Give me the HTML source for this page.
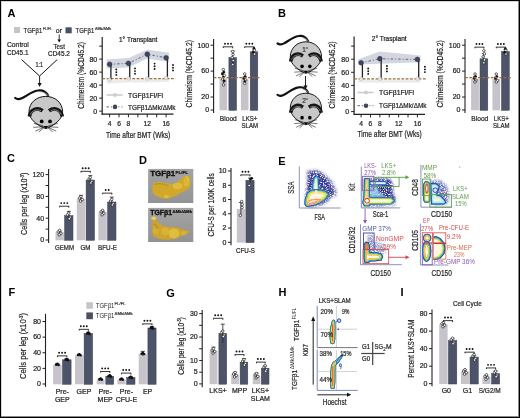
<!DOCTYPE html>
<html><head><meta charset="utf-8"><style>
html,body{margin:0;padding:0;background:#fff;}
.fig{position:relative;width:520px;height:418px;box-sizing:border-box;border:1px solid #000;overflow:hidden;background:#fff;box-shadow:inset -1px -1px 0 #8a8a8a, inset 1px 1px 0 #d8d8d8;}
svg{position:absolute;left:-1px;top:-1px;font-family:"Liberation Sans", sans-serif;will-change:transform;filter:blur(0.3px);}
</style></head><body><div class="fig">
<svg width="520" height="418" viewBox="0 0 520 418">
<defs><filter id="bl1" x="-30%" y="-30%" width="160%" height="160%"><feGaussianBlur stdDeviation="0.9"/></filter><filter id="bl2" x="-30%" y="-30%" width="160%" height="160%"><feGaussianBlur stdDeviation="0.45"/></filter><filter id="bl3" x="-30%" y="-30%" width="160%" height="160%"><feGaussianBlur stdDeviation="1.4"/></filter><filter id="speck" x="-20%" y="-20%" width="140%" height="140%" color-interpolation-filters="sRGB"><feGaussianBlur in="SourceGraphic" stdDeviation="1.6" result="sb"/><feTurbulence type="fractalNoise" baseFrequency="1.1" numOctaves="2" seed="7" result="n"/><feColorMatrix in="n" type="matrix" values="0 0 0 0 0.16  0 0 0 0 0.18  0 0 0 0 0.55  3.4 0 0 0 -1.0" result="c"/><feComposite in="c" in2="sb" operator="in"/></filter><linearGradient id="photobg" x1="0" y1="0" x2="0" y2="1"><stop offset="0" stop-color="#a4a4a4"/><stop offset="1" stop-color="#939393"/></linearGradient></defs>
<text x="0" y="0" transform="translate(7.60 16.52)" font-size="11" fill="#000" font-weight="bold" >A</text>
<rect x="14.00" y="27.00" width="6.00" height="6.00" fill="#c6c4ca" />
<text x="23.6" y="32.8" font-size="7.4" fill="#231f20" stroke="#231f20" stroke-width="0.2" textLength="18.6" lengthAdjust="spacingAndGlyphs">TGFβ1</text>
<text x="43" y="29.6" font-size="4.3" fill="#231f20" stroke="#231f20" stroke-width="0.18" textLength="9.2" lengthAdjust="spacingAndGlyphs">FL/FL</text>
<text x="0" y="0" transform="translate(55.80 32.60)" font-size="7" fill="#231f20" stroke="#231f20" stroke-width="0.22" >or</text>
<rect x="65.50" y="27.30" width="6.20" height="6.00" fill="#4a5066" />
<text x="75.6" y="32.8" font-size="7.4" fill="#231f20" stroke="#231f20" stroke-width="0.2" textLength="18.6" lengthAdjust="spacingAndGlyphs">TGFβ1</text>
<text x="95" y="29.6" font-size="4.3" fill="#231f20" stroke="#231f20" stroke-width="0.18" textLength="16" lengthAdjust="spacingAndGlyphs">ΔMk/ΔMk</text>
<line x1="59.20" y1="34.50" x2="59.20" y2="40.50" stroke="#231f20" stroke-width="0.9" />
<path d="M57.4,39.6 L61,39.6 L59.2,42.4 Z" fill="#111"/>
<text x="0" y="0" transform="translate(6.90 47.30) scale(0.9099 1)" font-size="7.5" fill="#231f20" stroke="#231f20" stroke-width="0.22" >Control</text>
<text x="0" y="0" transform="translate(6.90 54.70) scale(0.8494 1)" font-size="7.5" fill="#231f20" stroke="#231f20" stroke-width="0.22" >CD45.1</text>
<text x="0" y="0" transform="translate(53.50 48.50) scale(0.8288 1)" font-size="7.5" fill="#231f20" stroke="#231f20" stroke-width="0.22" >Test</text>
<text x="0" y="0" transform="translate(48.00 56.20) scale(0.8651 1)" font-size="7.5" fill="#231f20" stroke="#231f20" stroke-width="0.22" >CD45.2</text>
<text x="0" y="0" transform="translate(35.40 66.50) scale(0.7913 1)" font-size="7" fill="#231f20" stroke="#231f20" stroke-width="0.22" >1:1</text>
<path d="M21.5,59.6 L39.6,76 L57.2,59.6" fill="none" stroke="#111" stroke-width="1"/>
<line x1="39.60" y1="76.00" x2="39.60" y2="84.00" stroke="#231f20" stroke-width="1" />
<path d="M37.6,83 L41.6,83 L39.6,87 Z" fill="#111"/>
<g transform="translate(45.80,96.40) scale(1.0,1.0)">
<path d="M2.4,-0.8 C0,-5 -4,-6.6 -8,-5.9 C-14,-5 -19,-0.5 -23.5,1.6 C-26.5,3 -29,3 -30.6,1.6" fill="none" stroke="#111" stroke-width="2.2" stroke-linecap="round"/>
<path d="M3.2,0.2 C1.5,-2.5 -1,-3.8 -3.5,-4.2" fill="none" stroke="#9a9a9a" stroke-width="0.9"/>
<path d="M0,0 C9.5,0 16.6,6.5 16.8,15 C17,19.5 14.5,22.5 11.5,25.5 C8,28.5 4,31 0,32.2 C-4,31 -8,28.5 -11.5,25.5 C-14.5,22.5 -17,19.5 -16.8,15 C-16.6,6.5 -9.5,0 0,0 Z" fill="#c8c8c8" stroke="#111" stroke-width="1"/>
<path d="M-16.4,20 C-15.5,13.5 -9,10.3 -3.2,14.4" fill="none" stroke="#151515" stroke-width="3.8"/>
<path d="M-15.4,18.2 C-14,14.3 -9,12.2 -4.8,14.3" fill="none" stroke="#9a9a9a" stroke-width="0.8"/>
<path d="M16.4,20 C15.5,13.5 9,10.3 3.2,14.4" fill="none" stroke="#151515" stroke-width="3.8"/>
<path d="M15.4,18.2 C14,14.3 9,12.2 4.8,14.3" fill="none" stroke="#9a9a9a" stroke-width="0.8"/>
<circle cx="-4.1" cy="25" r="1.9" fill="#000"/><circle cx="4.2" cy="25" r="1.9" fill="#000"/>
<path d="M-2.6,29.6 L2.6,29.6 L0,32.4 Z" fill="#000"/>
<path d="M-2.5,29.5 L-12,27 M-2.5,30.3 L-12.5,31 M-2.5,31 L-10.5,34.8 M-2,31.3 L-7,35.6 M2.5,29.5 L12,27 M2.5,30.3 L12.5,31 M2.5,31 L10.5,34.8 M2,31.3 L7,35.6" stroke="#111" stroke-width="0.6" fill="none"/>
</g>
<line x1="102.20" y1="37.00" x2="102.20" y2="114.70" stroke="#231f20" stroke-width="1.2" />
<line x1="101.70" y1="114.20" x2="173.50" y2="114.20" stroke="#231f20" stroke-width="1.2" />
<line x1="99.20" y1="111.10" x2="102.20" y2="111.10" stroke="#231f20" stroke-width="1" />
<text x="0" y="0" transform="translate(97.20 113.50)" font-size="7" fill="#231f20" text-anchor="end" stroke="#231f20" stroke-width="0.22" >0</text>
<line x1="99.20" y1="98.10" x2="102.20" y2="98.10" stroke="#231f20" stroke-width="1" />
<text x="0" y="0" transform="translate(97.20 100.50)" font-size="7" fill="#231f20" text-anchor="end" stroke="#231f20" stroke-width="0.22" >20</text>
<line x1="99.20" y1="85.10" x2="102.20" y2="85.10" stroke="#231f20" stroke-width="1" />
<text x="0" y="0" transform="translate(97.20 87.50)" font-size="7" fill="#231f20" text-anchor="end" stroke="#231f20" stroke-width="0.22" >40</text>
<line x1="99.20" y1="72.10" x2="102.20" y2="72.10" stroke="#231f20" stroke-width="1" />
<text x="0" y="0" transform="translate(97.20 74.50)" font-size="7" fill="#231f20" text-anchor="end" stroke="#231f20" stroke-width="0.22" >60</text>
<line x1="99.20" y1="59.10" x2="102.20" y2="59.10" stroke="#231f20" stroke-width="1" />
<text x="0" y="0" transform="translate(97.20 61.50)" font-size="7" fill="#231f20" text-anchor="end" stroke="#231f20" stroke-width="0.22" >80</text>
<line x1="99.20" y1="46.10" x2="102.20" y2="46.10" stroke="#231f20" stroke-width="1" />
<line x1="109.60" y1="114.20" x2="109.60" y2="117.30" stroke="#231f20" stroke-width="1" />
<text x="0" y="0" transform="translate(109.60 125.60)" font-size="6.7" fill="#231f20" text-anchor="middle" stroke="#231f20" stroke-width="0.22" >4</text>
<line x1="119.02" y1="114.20" x2="119.02" y2="117.30" stroke="#231f20" stroke-width="1" />
<text x="0" y="0" transform="translate(119.02 125.60)" font-size="6.7" fill="#231f20" text-anchor="middle" stroke="#231f20" stroke-width="0.22" >6</text>
<line x1="128.43" y1="114.20" x2="128.43" y2="117.30" stroke="#231f20" stroke-width="1" />
<text x="0" y="0" transform="translate(128.43 125.60)" font-size="6.7" fill="#231f20" text-anchor="middle" stroke="#231f20" stroke-width="0.22" >8</text>
<line x1="137.85" y1="114.20" x2="137.85" y2="117.30" stroke="#231f20" stroke-width="1" />
<line x1="147.27" y1="114.20" x2="147.27" y2="117.30" stroke="#231f20" stroke-width="1" />
<text x="0" y="0" transform="translate(147.27 125.60)" font-size="6.7" fill="#231f20" text-anchor="middle" stroke="#231f20" stroke-width="0.22" >12</text>
<line x1="156.68" y1="114.20" x2="156.68" y2="117.30" stroke="#231f20" stroke-width="1" />
<line x1="166.10" y1="114.20" x2="166.10" y2="117.30" stroke="#231f20" stroke-width="1" />
<text x="0" y="0" transform="translate(166.10 125.60)" font-size="6.7" fill="#231f20" text-anchor="middle" stroke="#231f20" stroke-width="0.22" >16</text>
<polygon points="106.60,59.40 128.43,58.00 147.27,49.80 169.10,52.70 169.10,62.00 147.27,58.50 128.43,67.50 106.60,68.50" fill="#d3d6de"/>
<polygon points="106.60,80.55 128.43,79.25 147.27,79.25 169.10,78.60 169.10,81.85 147.27,82.50 128.43,82.50 106.60,83.80" fill="#ececee"/>
<line x1="102.20" y1="78.60" x2="175.50" y2="78.60" stroke="#9c6f3c" stroke-width="1.2" stroke-dasharray="2.8,1.5"/>
<polyline points="109.60,64.30 128.43,63.33 147.27,54.23 166.10,57.80" fill="none" stroke="#5d6580" stroke-width="1" stroke-dasharray="2.5,2,1,2"/>
<line x1="110.90" y1="64.30" x2="110.90" y2="79.90" stroke="#222" stroke-width="1.3" />
<line x1="129.73" y1="63.33" x2="129.73" y2="78.60" stroke="#222" stroke-width="1.3" />
<line x1="148.57" y1="54.23" x2="148.57" y2="78.60" stroke="#222" stroke-width="1.3" />
<line x1="167.40" y1="57.80" x2="167.40" y2="77.95" stroke="#222" stroke-width="1.3" />
<circle cx="109.60" cy="79.90" r="1.8" fill="#e4e4e4" stroke="#bbb" stroke-width="0.5"/>
<circle cx="128.43" cy="78.60" r="1.8" fill="#e4e4e4" stroke="#bbb" stroke-width="0.5"/>
<circle cx="147.27" cy="78.60" r="1.8" fill="#e4e4e4" stroke="#bbb" stroke-width="0.5"/>
<circle cx="166.10" cy="77.95" r="1.8" fill="#e4e4e4" stroke="#bbb" stroke-width="0.5"/>
<circle cx="109.60" cy="64.30" r="2.4" fill="#3d4660" stroke="#2a3045" stroke-width="0.5"/>
<circle cx="128.43" cy="63.33" r="2.4" fill="#3d4660" stroke="#2a3045" stroke-width="0.5"/>
<circle cx="147.27" cy="54.23" r="2.4" fill="#3d4660" stroke="#2a3045" stroke-width="0.5"/>
<circle cx="166.10" cy="57.80" r="2.4" fill="#3d4660" stroke="#2a3045" stroke-width="0.5"/>
<circle cx="116.30" cy="69.50" r="0.95" fill="#111"/>
<circle cx="116.30" cy="72.20" r="0.95" fill="#111"/>
<circle cx="116.30" cy="74.90" r="0.95" fill="#111"/>
<circle cx="135.00" cy="68.40" r="0.95" fill="#111"/>
<circle cx="135.00" cy="71.10" r="0.95" fill="#111"/>
<circle cx="135.00" cy="73.80" r="0.95" fill="#111"/>
<circle cx="154.60" cy="63.60" r="0.95" fill="#111"/>
<circle cx="154.60" cy="66.30" r="0.95" fill="#111"/>
<circle cx="154.60" cy="69.00" r="0.95" fill="#111"/>
<circle cx="173.00" cy="65.00" r="0.95" fill="#111"/>
<circle cx="173.00" cy="67.70" r="0.95" fill="#111"/>
<circle cx="173.00" cy="70.40" r="0.95" fill="#111"/>
<text x="0" y="0" transform="translate(119.00 41.50)" font-size="6.5" fill="#231f20" stroke="#231f20" stroke-width="0.22" >1° Transplant</text>
<line x1="106.50" y1="95.00" x2="122.50" y2="95.00" stroke="#c9c9c9" stroke-width="1.5" />
<circle cx="115.00" cy="95.00" r="2" fill="#cfcfcf"/>
<text x="0" y="0" transform="translate(128.00 97.60) scale(0.9853 1)" font-size="7" fill="#231f20" stroke="#231f20" stroke-width="0.22" >TGFβ1Fl/Fl</text>
<line x1="106.50" y1="106.90" x2="122.50" y2="106.90" stroke="#5d6580" stroke-width="1" stroke-dasharray="2.5,2,1,2"/>
<circle cx="115.00" cy="106.90" r="2.3" fill="#3d4660"/>
<text x="0" y="0" transform="translate(128.00 109.50) scale(0.9157 1)" font-size="7" fill="#231f20" stroke="#231f20" stroke-width="0.22" >TGFβ1ΔMk/ΔMk</text>
<text x="0" y="0" transform="translate(84.30 108.70) rotate(-90) scale(0.7421 1)" font-size="9" fill="#231f20" stroke="#231f20" stroke-width="0.22" >Chimerism (%CD45.2)</text>
<text x="0" y="0" transform="translate(106.00 138.20) scale(0.7981 1)" font-size="8.3" fill="#231f20" stroke="#231f20" stroke-width="0.22" >Time after BMT (Wks)</text>
<line x1="213.60" y1="38.90" x2="213.60" y2="112.90" stroke="#231f20" stroke-width="1.1" />
<line x1="210.60" y1="110.00" x2="213.60" y2="110.00" stroke="#231f20" stroke-width="1" />
<text x="0" y="0" transform="translate(209.10 112.30)" font-size="7" fill="#231f20" text-anchor="end" stroke="#231f20" stroke-width="0.22" >0</text>
<line x1="210.60" y1="97.04" x2="213.60" y2="97.04" stroke="#231f20" stroke-width="1" />
<text x="0" y="0" transform="translate(209.10 99.34)" font-size="7" fill="#231f20" text-anchor="end" stroke="#231f20" stroke-width="0.22" >20</text>
<line x1="210.60" y1="84.08" x2="213.60" y2="84.08" stroke="#231f20" stroke-width="1" />
<line x1="210.60" y1="71.12" x2="213.60" y2="71.12" stroke="#231f20" stroke-width="1" />
<text x="0" y="0" transform="translate(209.10 73.42)" font-size="7" fill="#231f20" text-anchor="end" stroke="#231f20" stroke-width="0.22" >60</text>
<line x1="210.60" y1="58.16" x2="213.60" y2="58.16" stroke="#231f20" stroke-width="1" />
<line x1="210.60" y1="45.20" x2="213.60" y2="45.20" stroke="#231f20" stroke-width="1" />
<text x="0" y="0" transform="translate(209.10 47.50)" font-size="7" fill="#231f20" text-anchor="end" stroke="#231f20" stroke-width="0.22" >100</text>
<rect x="219.50" y="78.57" width="7.60" height="31.73" fill="#c6c4ca" />
<rect x="228.90" y="57.58" width="7.60" height="52.72" fill="#4d5469" stroke="#3a4052" stroke-width="0.5"/>
<line x1="223.30" y1="72.74" x2="223.30" y2="84.40" stroke="#231f20" stroke-width="0.8" />
<line x1="221.30" y1="72.74" x2="225.30" y2="72.74" stroke="#231f20" stroke-width="0.8" />
<line x1="232.70" y1="51.10" x2="232.70" y2="64.06" stroke="#231f20" stroke-width="0.8" />
<line x1="230.70" y1="51.10" x2="234.70" y2="51.10" stroke="#231f20" stroke-width="0.8" />
<circle cx="223.30" cy="69.57" r="1.25" fill="#fff" stroke="#111" stroke-width="0.65"/>
<circle cx="223.80" cy="72.07" r="1.3" fill="#111"/>
<circle cx="222.30" cy="74.07" r="1.3" fill="#111"/>
<circle cx="224.30" cy="75.57" r="1.25" fill="#fff" stroke="#111" stroke-width="0.65"/>
<circle cx="223.30" cy="77.07" r="1.3" fill="#111"/>
<circle cx="222.50" cy="79.07" r="1.25" fill="#fff" stroke="#111" stroke-width="0.65"/>
<circle cx="224.30" cy="81.07" r="1.3" fill="#111"/>
<circle cx="223.60" cy="84.87" r="1.25" fill="#fff" stroke="#111" stroke-width="0.65"/>
<circle cx="232.70" cy="51.58" r="1.25" fill="#fff" stroke="#111" stroke-width="0.65"/>
<circle cx="233.00" cy="54.58" r="1.25" fill="#fff" stroke="#111" stroke-width="0.65"/>
<circle cx="232.20" cy="57.58" r="1.25" fill="#fff" stroke="#111" stroke-width="0.65"/>
<circle cx="233.20" cy="60.58" r="1.25" fill="#fff" stroke="#111" stroke-width="0.65"/>
<circle cx="232.70" cy="64.38" r="1.25" fill="#fff" stroke="#111" stroke-width="0.65"/>
<line x1="222.90" y1="46.82" x2="233.10" y2="46.82" stroke="#231f20" stroke-width="0.9" />
<line x1="232.70" y1="46.82" x2="232.70" y2="48.32" stroke="#231f20" stroke-width="0.9" />
<line x1="223.30" y1="46.82" x2="223.30" y2="48.02" stroke="#231f20" stroke-width="0.9" />
<circle cx="225.00" cy="43.72" r="0.95" fill="#111"/>
<circle cx="228.00" cy="43.72" r="0.95" fill="#111"/>
<circle cx="231.00" cy="43.72" r="0.95" fill="#111"/>
<rect x="240.90" y="79.41" width="7.60" height="30.89" fill="#c6c4ca" />
<rect x="250.20" y="51.81" width="7.60" height="58.49" fill="#4d5469" stroke="#3a4052" stroke-width="0.5"/>
<line x1="244.70" y1="76.82" x2="244.70" y2="82.01" stroke="#231f20" stroke-width="0.8" />
<line x1="242.70" y1="76.82" x2="246.70" y2="76.82" stroke="#231f20" stroke-width="0.8" />
<line x1="254.00" y1="49.87" x2="254.00" y2="53.75" stroke="#231f20" stroke-width="0.8" />
<line x1="252.00" y1="49.87" x2="256.00" y2="49.87" stroke="#231f20" stroke-width="0.8" />
<circle cx="244.70" cy="73.91" r="1.25" fill="#fff" stroke="#111" stroke-width="0.65"/>
<circle cx="245.20" cy="76.61" r="1.3" fill="#111"/>
<circle cx="243.70" cy="78.41" r="1.3" fill="#111"/>
<circle cx="245.70" cy="79.91" r="1.25" fill="#fff" stroke="#111" stroke-width="0.65"/>
<circle cx="244.70" cy="81.61" r="1.3" fill="#111"/>
<circle cx="244.70" cy="83.41" r="1.25" fill="#fff" stroke="#111" stroke-width="0.65"/>
<circle cx="254.00" cy="48.31" r="1.3" fill="#111"/>
<circle cx="254.50" cy="50.31" r="1.25" fill="#fff" stroke="#111" stroke-width="0.65"/>
<circle cx="253.20" cy="52.31" r="1.3" fill="#111"/>
<circle cx="254.60" cy="54.11" r="1.25" fill="#fff" stroke="#111" stroke-width="0.65"/>
<line x1="244.30" y1="46.82" x2="254.40" y2="46.82" stroke="#231f20" stroke-width="0.9" />
<line x1="254.00" y1="46.82" x2="254.00" y2="48.32" stroke="#231f20" stroke-width="0.9" />
<line x1="244.70" y1="46.82" x2="244.70" y2="48.02" stroke="#231f20" stroke-width="0.9" />
<circle cx="246.35" cy="43.72" r="0.95" fill="#111"/>
<circle cx="249.35" cy="43.72" r="0.95" fill="#111"/>
<circle cx="252.35" cy="43.72" r="0.95" fill="#111"/>
<line x1="213.60" y1="77.60" x2="260.00" y2="77.60" stroke="#9c6f3c" stroke-width="1.2" stroke-dasharray="2.8,1.5"/>
<text x="0" y="0" transform="translate(192.47 107.40) rotate(-90) scale(0.7488 1)" font-size="9" fill="#231f20" stroke="#231f20" stroke-width="0.22" >Chimerism (%CD45.2)</text>
<text x="0" y="0" transform="translate(228.30 121.00) scale(0.9495 1)" font-size="7" fill="#231f20" text-anchor="middle" stroke="#231f20" stroke-width="0.22" >Blood</text>
<text x="0" y="0" transform="translate(249.80 121.00) scale(0.8661 1)" font-size="7" fill="#231f20" text-anchor="middle" stroke="#231f20" stroke-width="0.22" >LKS+</text>
<text x="0" y="0" transform="translate(249.80 128.20) scale(0.8656 1)" font-size="7" fill="#231f20" text-anchor="middle" stroke="#231f20" stroke-width="0.22" >SLAM</text>
<text x="0" y="0" transform="translate(278.00 17.12)" font-size="11" fill="#000" font-weight="bold" >B</text>
<g transform="translate(305.90,41.80) scale(0.93,0.98)">
<path d="M2.4,-0.8 C0,-5 -4,-6.6 -8,-5.9 C-14,-5 -19,-0.5 -23.5,1.6 C-26.5,3 -29,3 -30.6,1.6" fill="none" stroke="#111" stroke-width="2.2" stroke-linecap="round"/>
<path d="M3.2,0.2 C1.5,-2.5 -1,-3.8 -3.5,-4.2" fill="none" stroke="#9a9a9a" stroke-width="0.9"/>
<path d="M0,0 C9.5,0 16.6,6.5 16.8,15 C17,19.5 14.5,22.5 11.5,25.5 C8,28.5 4,31 0,32.2 C-4,31 -8,28.5 -11.5,25.5 C-14.5,22.5 -17,19.5 -16.8,15 C-16.6,6.5 -9.5,0 0,0 Z" fill="#c8c8c8" stroke="#111" stroke-width="1"/>
<path d="M-16.4,20 C-15.5,13.5 -9,10.3 -3.2,14.4" fill="none" stroke="#151515" stroke-width="3.8"/>
<path d="M-15.4,18.2 C-14,14.3 -9,12.2 -4.8,14.3" fill="none" stroke="#9a9a9a" stroke-width="0.8"/>
<path d="M16.4,20 C15.5,13.5 9,10.3 3.2,14.4" fill="none" stroke="#151515" stroke-width="3.8"/>
<path d="M15.4,18.2 C14,14.3 9,12.2 4.8,14.3" fill="none" stroke="#9a9a9a" stroke-width="0.8"/>
<circle cx="-4.1" cy="25" r="1.9" fill="#000"/><circle cx="4.2" cy="25" r="1.9" fill="#000"/>
<path d="M-2.6,29.6 L2.6,29.6 L0,32.4 Z" fill="#000"/>
<path d="M-2.5,29.5 L-12,27 M-2.5,30.3 L-12.5,31 M-2.5,31 L-10.5,34.8 M-2,31.3 L-7,35.6 M2.5,29.5 L12,27 M2.5,30.3 L12.5,31 M2.5,31 L10.5,34.8 M2,31.3 L7,35.6" stroke="#111" stroke-width="0.6" fill="none"/>
<text x="-1" y="10" font-size="7" text-anchor="middle" fill="#3a3a3a" stroke="#3a3a3a" stroke-width="0.25">1<tspan font-size="4" dy="-2.8" stroke-width="0.15">o</tspan></text>
</g>
<line x1="305.50" y1="76.00" x2="305.50" y2="86.50" stroke="#231f20" stroke-width="1" />
<path d="M303.5,85.5 L307.5,85.5 L305.5,89.5 Z" fill="#111"/>
<g transform="translate(305.90,93.20) scale(0.93,0.98)">
<path d="M2.4,-0.8 C0,-5 -4,-6.6 -8,-5.9 C-14,-5 -19,-0.5 -23.5,1.6 C-26.5,3 -29,3 -30.6,1.6" fill="none" stroke="#111" stroke-width="2.2" stroke-linecap="round"/>
<path d="M3.2,0.2 C1.5,-2.5 -1,-3.8 -3.5,-4.2" fill="none" stroke="#9a9a9a" stroke-width="0.9"/>
<path d="M0,0 C9.5,0 16.6,6.5 16.8,15 C17,19.5 14.5,22.5 11.5,25.5 C8,28.5 4,31 0,32.2 C-4,31 -8,28.5 -11.5,25.5 C-14.5,22.5 -17,19.5 -16.8,15 C-16.6,6.5 -9.5,0 0,0 Z" fill="#c8c8c8" stroke="#111" stroke-width="1"/>
<path d="M-16.4,20 C-15.5,13.5 -9,10.3 -3.2,14.4" fill="none" stroke="#151515" stroke-width="3.8"/>
<path d="M-15.4,18.2 C-14,14.3 -9,12.2 -4.8,14.3" fill="none" stroke="#9a9a9a" stroke-width="0.8"/>
<path d="M16.4,20 C15.5,13.5 9,10.3 3.2,14.4" fill="none" stroke="#151515" stroke-width="3.8"/>
<path d="M15.4,18.2 C14,14.3 9,12.2 4.8,14.3" fill="none" stroke="#9a9a9a" stroke-width="0.8"/>
<circle cx="-4.1" cy="25" r="1.9" fill="#000"/><circle cx="4.2" cy="25" r="1.9" fill="#000"/>
<path d="M-2.6,29.6 L2.6,29.6 L0,32.4 Z" fill="#000"/>
<path d="M-2.5,29.5 L-12,27 M-2.5,30.3 L-12.5,31 M-2.5,31 L-10.5,34.8 M-2,31.3 L-7,35.6 M2.5,29.5 L12,27 M2.5,30.3 L12.5,31 M2.5,31 L10.5,34.8 M2,31.3 L7,35.6" stroke="#111" stroke-width="0.6" fill="none"/>
<text x="-1" y="10" font-size="7" text-anchor="middle" fill="#3a3a3a" stroke="#3a3a3a" stroke-width="0.25">2<tspan font-size="4" dy="-2.8" stroke-width="0.15">o</tspan></text>
</g>
<line x1="354.10" y1="36.60" x2="354.10" y2="114.80" stroke="#231f20" stroke-width="1.2" />
<line x1="353.60" y1="114.30" x2="425.00" y2="114.30" stroke="#231f20" stroke-width="1.2" />
<line x1="351.10" y1="111.60" x2="354.10" y2="111.60" stroke="#231f20" stroke-width="1" />
<text x="0" y="0" transform="translate(349.10 114.00)" font-size="7" fill="#231f20" text-anchor="end" stroke="#231f20" stroke-width="0.22" >0</text>
<line x1="351.10" y1="98.50" x2="354.10" y2="98.50" stroke="#231f20" stroke-width="1" />
<text x="0" y="0" transform="translate(349.10 100.90)" font-size="7" fill="#231f20" text-anchor="end" stroke="#231f20" stroke-width="0.22" >20</text>
<line x1="351.10" y1="85.40" x2="354.10" y2="85.40" stroke="#231f20" stroke-width="1" />
<text x="0" y="0" transform="translate(349.10 87.80)" font-size="7" fill="#231f20" text-anchor="end" stroke="#231f20" stroke-width="0.22" >40</text>
<line x1="351.10" y1="72.30" x2="354.10" y2="72.30" stroke="#231f20" stroke-width="1" />
<text x="0" y="0" transform="translate(349.10 74.70)" font-size="7" fill="#231f20" text-anchor="end" stroke="#231f20" stroke-width="0.22" >60</text>
<line x1="351.10" y1="59.20" x2="354.10" y2="59.20" stroke="#231f20" stroke-width="1" />
<text x="0" y="0" transform="translate(349.10 61.60)" font-size="7" fill="#231f20" text-anchor="end" stroke="#231f20" stroke-width="0.22" >80</text>
<line x1="351.10" y1="46.10" x2="354.10" y2="46.10" stroke="#231f20" stroke-width="1" />
<line x1="361.10" y1="114.30" x2="361.10" y2="117.40" stroke="#231f20" stroke-width="1" />
<text x="0" y="0" transform="translate(361.10 125.70)" font-size="6.7" fill="#231f20" text-anchor="middle" stroke="#231f20" stroke-width="0.22" >4</text>
<line x1="370.48" y1="114.30" x2="370.48" y2="117.40" stroke="#231f20" stroke-width="1" />
<text x="0" y="0" transform="translate(370.48 125.70)" font-size="6.7" fill="#231f20" text-anchor="middle" stroke="#231f20" stroke-width="0.22" >6</text>
<line x1="379.87" y1="114.30" x2="379.87" y2="117.40" stroke="#231f20" stroke-width="1" />
<text x="0" y="0" transform="translate(379.87 125.70)" font-size="6.7" fill="#231f20" text-anchor="middle" stroke="#231f20" stroke-width="0.22" >8</text>
<line x1="389.25" y1="114.30" x2="389.25" y2="117.40" stroke="#231f20" stroke-width="1" />
<line x1="398.63" y1="114.30" x2="398.63" y2="117.40" stroke="#231f20" stroke-width="1" />
<text x="0" y="0" transform="translate(398.63 125.70)" font-size="6.7" fill="#231f20" text-anchor="middle" stroke="#231f20" stroke-width="0.22" >12</text>
<line x1="408.02" y1="114.30" x2="408.02" y2="117.40" stroke="#231f20" stroke-width="1" />
<line x1="417.40" y1="114.30" x2="417.40" y2="117.40" stroke="#231f20" stroke-width="1" />
<text x="0" y="0" transform="translate(417.40 125.70)" font-size="6.7" fill="#231f20" text-anchor="middle" stroke="#231f20" stroke-width="0.22" >16</text>
<polygon points="358.10,59.20 379.87,51.50 420.40,55.40 420.40,62.30 379.87,63.80 358.10,64.60" fill="#d3d6de"/>
<polygon points="358.10,79.50 379.87,79.50 420.40,79.50 420.40,82.78 379.87,82.78 358.10,82.78" fill="#ececee"/>
<line x1="354.10" y1="78.85" x2="427.00" y2="78.85" stroke="#9c6f3c" stroke-width="1.2" stroke-dasharray="2.8,1.5"/>
<polyline points="361.10,62.80 379.87,58.74 417.40,59.46" fill="none" stroke="#5d6580" stroke-width="1" stroke-dasharray="2.5,2,1,2"/>
<line x1="362.40" y1="62.80" x2="362.40" y2="78.85" stroke="#222" stroke-width="1.3" />
<line x1="381.17" y1="58.74" x2="381.17" y2="78.85" stroke="#222" stroke-width="1.3" />
<line x1="418.70" y1="59.46" x2="418.70" y2="78.85" stroke="#222" stroke-width="1.3" />
<circle cx="361.10" cy="78.85" r="1.8" fill="#e4e4e4" stroke="#bbb" stroke-width="0.5"/>
<circle cx="379.87" cy="78.85" r="1.8" fill="#e4e4e4" stroke="#bbb" stroke-width="0.5"/>
<circle cx="417.40" cy="78.85" r="1.8" fill="#e4e4e4" stroke="#bbb" stroke-width="0.5"/>
<circle cx="361.10" cy="62.80" r="2.4" fill="#3d4660" stroke="#2a3045" stroke-width="0.5"/>
<circle cx="379.87" cy="58.74" r="2.4" fill="#3d4660" stroke="#2a3045" stroke-width="0.5"/>
<circle cx="417.40" cy="59.46" r="2.4" fill="#3d4660" stroke="#2a3045" stroke-width="0.5"/>
<circle cx="368.20" cy="68.50" r="0.95" fill="#111"/>
<circle cx="368.20" cy="71.20" r="0.95" fill="#111"/>
<circle cx="368.20" cy="73.90" r="0.95" fill="#111"/>
<circle cx="386.90" cy="66.00" r="0.95" fill="#111"/>
<circle cx="386.90" cy="68.70" r="0.95" fill="#111"/>
<circle cx="386.90" cy="71.40" r="0.95" fill="#111"/>
<circle cx="424.90" cy="66.70" r="0.95" fill="#111"/>
<circle cx="424.90" cy="69.40" r="0.95" fill="#111"/>
<circle cx="424.90" cy="72.10" r="0.95" fill="#111"/>
<text x="0" y="0" transform="translate(371.80 41.10)" font-size="6.5" fill="#231f20" stroke="#231f20" stroke-width="0.22" >2° Trasplant</text>
<line x1="357.50" y1="92.50" x2="373.50" y2="92.50" stroke="#c9c9c9" stroke-width="1.5" />
<circle cx="366.00" cy="92.50" r="2" fill="#cfcfcf"/>
<text x="0" y="0" transform="translate(379.00 95.10) scale(0.9853 1)" font-size="7" fill="#231f20" stroke="#231f20" stroke-width="0.22" >TGFβ1Fl/Fl</text>
<line x1="357.50" y1="105.70" x2="373.50" y2="105.70" stroke="#5d6580" stroke-width="1" stroke-dasharray="2.5,2,1,2"/>
<circle cx="366.00" cy="105.70" r="2.3" fill="#3d4660"/>
<text x="0" y="0" transform="translate(379.00 108.30) scale(0.9157 1)" font-size="7" fill="#231f20" stroke="#231f20" stroke-width="0.22" >TGFβ1ΔMk/ΔMk</text>
<text x="0" y="0" transform="translate(334.50 108.50) rotate(-90) scale(0.7443 1)" font-size="9" fill="#231f20" stroke="#231f20" stroke-width="0.22" >Chimerism (%CD45.2)</text>
<text x="0" y="0" transform="translate(357.50 136.60) scale(0.7981 1)" font-size="8.3" fill="#231f20" stroke="#231f20" stroke-width="0.22" >Time after BMT (Wks)</text>
<line x1="465.00" y1="38.90" x2="465.00" y2="112.90" stroke="#231f20" stroke-width="1.1" />
<line x1="462.00" y1="110.00" x2="465.00" y2="110.00" stroke="#231f20" stroke-width="1" />
<text x="0" y="0" transform="translate(460.50 112.30)" font-size="7" fill="#231f20" text-anchor="end" stroke="#231f20" stroke-width="0.22" >0</text>
<line x1="462.00" y1="97.04" x2="465.00" y2="97.04" stroke="#231f20" stroke-width="1" />
<text x="0" y="0" transform="translate(460.50 99.34)" font-size="7" fill="#231f20" text-anchor="end" stroke="#231f20" stroke-width="0.22" >20</text>
<line x1="462.00" y1="84.08" x2="465.00" y2="84.08" stroke="#231f20" stroke-width="1" />
<line x1="462.00" y1="71.12" x2="465.00" y2="71.12" stroke="#231f20" stroke-width="1" />
<text x="0" y="0" transform="translate(460.50 73.42)" font-size="7" fill="#231f20" text-anchor="end" stroke="#231f20" stroke-width="0.22" >60</text>
<line x1="462.00" y1="58.16" x2="465.00" y2="58.16" stroke="#231f20" stroke-width="1" />
<line x1="462.00" y1="45.20" x2="465.00" y2="45.20" stroke="#231f20" stroke-width="1" />
<text x="0" y="0" transform="translate(460.50 47.50)" font-size="7" fill="#231f20" text-anchor="end" stroke="#231f20" stroke-width="0.22" >100</text>
<rect x="471.10" y="79.03" width="7.80" height="31.27" fill="#c6c4ca" />
<rect x="480.00" y="58.81" width="7.80" height="51.49" fill="#4d5469" stroke="#3a4052" stroke-width="0.5"/>
<line x1="475.00" y1="76.43" x2="475.00" y2="81.62" stroke="#231f20" stroke-width="0.8" />
<line x1="473.00" y1="76.43" x2="477.00" y2="76.43" stroke="#231f20" stroke-width="0.8" />
<line x1="483.90" y1="53.62" x2="483.90" y2="63.99" stroke="#231f20" stroke-width="0.8" />
<line x1="481.90" y1="53.62" x2="485.90" y2="53.62" stroke="#231f20" stroke-width="0.8" />
<circle cx="475.00" cy="74.03" r="1.25" fill="#fff" stroke="#111" stroke-width="0.65"/>
<circle cx="475.50" cy="76.53" r="1.3" fill="#111"/>
<circle cx="474.00" cy="78.23" r="1.3" fill="#111"/>
<circle cx="476.00" cy="80.03" r="1.25" fill="#fff" stroke="#111" stroke-width="0.65"/>
<circle cx="475.00" cy="82.03" r="1.25" fill="#fff" stroke="#111" stroke-width="0.65"/>
<circle cx="483.90" cy="50.81" r="1.25" fill="#fff" stroke="#111" stroke-width="0.65"/>
<circle cx="484.40" cy="53.81" r="1.25" fill="#fff" stroke="#111" stroke-width="0.65"/>
<circle cx="483.10" cy="56.81" r="1.25" fill="#fff" stroke="#111" stroke-width="0.65"/>
<circle cx="484.50" cy="59.81" r="1.25" fill="#fff" stroke="#111" stroke-width="0.65"/>
<circle cx="483.90" cy="62.81" r="1.25" fill="#fff" stroke="#111" stroke-width="0.65"/>
<line x1="474.60" y1="47.14" x2="484.30" y2="47.14" stroke="#231f20" stroke-width="0.9" />
<line x1="483.90" y1="47.14" x2="483.90" y2="48.64" stroke="#231f20" stroke-width="0.9" />
<line x1="475.00" y1="47.14" x2="475.00" y2="48.34" stroke="#231f20" stroke-width="0.9" />
<circle cx="476.45" cy="44.04" r="0.95" fill="#111"/>
<circle cx="479.45" cy="44.04" r="0.95" fill="#111"/>
<circle cx="482.45" cy="44.04" r="0.95" fill="#111"/>
<rect x="492.40" y="79.03" width="7.80" height="31.27" fill="#c6c4ca" />
<rect x="501.50" y="51.62" width="7.80" height="58.68" fill="#4d5469" stroke="#3a4052" stroke-width="0.5"/>
<line x1="496.30" y1="77.08" x2="496.30" y2="80.97" stroke="#231f20" stroke-width="0.8" />
<line x1="494.30" y1="77.08" x2="498.30" y2="77.08" stroke="#231f20" stroke-width="0.8" />
<line x1="505.40" y1="49.67" x2="505.40" y2="53.56" stroke="#231f20" stroke-width="0.8" />
<line x1="503.40" y1="49.67" x2="507.40" y2="49.67" stroke="#231f20" stroke-width="0.8" />
<circle cx="496.30" cy="74.03" r="1.25" fill="#fff" stroke="#111" stroke-width="0.65"/>
<circle cx="496.80" cy="76.53" r="1.3" fill="#111"/>
<circle cx="495.30" cy="78.53" r="1.3" fill="#111"/>
<circle cx="497.30" cy="80.53" r="1.25" fill="#fff" stroke="#111" stroke-width="0.65"/>
<circle cx="496.30" cy="82.03" r="1.25" fill="#fff" stroke="#111" stroke-width="0.65"/>
<circle cx="505.40" cy="48.62" r="1.3" fill="#111"/>
<circle cx="505.90" cy="50.62" r="1.25" fill="#fff" stroke="#111" stroke-width="0.65"/>
<circle cx="504.60" cy="52.42" r="1.3" fill="#111"/>
<circle cx="506.00" cy="54.12" r="1.25" fill="#fff" stroke="#111" stroke-width="0.65"/>
<line x1="495.90" y1="47.14" x2="505.80" y2="47.14" stroke="#231f20" stroke-width="0.9" />
<line x1="505.40" y1="47.14" x2="505.40" y2="48.64" stroke="#231f20" stroke-width="0.9" />
<line x1="496.30" y1="47.14" x2="496.30" y2="48.34" stroke="#231f20" stroke-width="0.9" />
<circle cx="497.85" cy="44.04" r="0.95" fill="#111"/>
<circle cx="500.85" cy="44.04" r="0.95" fill="#111"/>
<circle cx="503.85" cy="44.04" r="0.95" fill="#111"/>
<line x1="465.00" y1="77.60" x2="512.00" y2="77.60" stroke="#9c6f3c" stroke-width="1.2" stroke-dasharray="2.8,1.5"/>
<text x="0" y="0" transform="translate(442.97 107.60) rotate(-90) scale(0.7510 1)" font-size="9" fill="#231f20" stroke="#231f20" stroke-width="0.22" >Chimerism (%CD45.2)</text>
<text x="0" y="0" transform="translate(479.80 120.80) scale(0.9495 1)" font-size="7" fill="#231f20" text-anchor="middle" stroke="#231f20" stroke-width="0.22" >Blood</text>
<text x="0" y="0" transform="translate(501.30 120.80) scale(0.8661 1)" font-size="7" fill="#231f20" text-anchor="middle" stroke="#231f20" stroke-width="0.22" >LKS+</text>
<text x="0" y="0" transform="translate(501.30 128.00) scale(0.8656 1)" font-size="7" fill="#231f20" text-anchor="middle" stroke="#231f20" stroke-width="0.22" >SLAM</text>
<text x="0" y="0" transform="translate(7.00 162.42)" font-size="11" fill="#000" font-weight="bold" >C</text>
<line x1="48.60" y1="168.90" x2="48.60" y2="242.90" stroke="#231f20" stroke-width="1.1" />
<line x1="45.60" y1="240.00" x2="48.60" y2="240.00" stroke="#231f20" stroke-width="1" />
<text x="0" y="0" transform="translate(44.10 242.30)" font-size="7" fill="#231f20" text-anchor="end" stroke="#231f20" stroke-width="0.22" >0</text>
<line x1="45.60" y1="229.10" x2="48.60" y2="229.10" stroke="#231f20" stroke-width="1" />
<line x1="45.60" y1="218.20" x2="48.60" y2="218.20" stroke="#231f20" stroke-width="1" />
<text x="0" y="0" transform="translate(44.10 220.50)" font-size="7" fill="#231f20" text-anchor="end" stroke="#231f20" stroke-width="0.22" >40</text>
<line x1="45.60" y1="207.30" x2="48.60" y2="207.30" stroke="#231f20" stroke-width="1" />
<line x1="45.60" y1="196.40" x2="48.60" y2="196.40" stroke="#231f20" stroke-width="1" />
<text x="0" y="0" transform="translate(44.10 198.70)" font-size="7" fill="#231f20" text-anchor="end" stroke="#231f20" stroke-width="0.22" >80</text>
<line x1="45.60" y1="185.50" x2="48.60" y2="185.50" stroke="#231f20" stroke-width="1" />
<line x1="45.60" y1="174.60" x2="48.60" y2="174.60" stroke="#231f20" stroke-width="1" />
<text x="0" y="0" transform="translate(44.10 176.90)" font-size="7" fill="#231f20" text-anchor="end" stroke="#231f20" stroke-width="0.22" >120</text>
<rect x="55.50" y="232.32" width="8.40" height="7.98" fill="#c6c4ca" />
<rect x="64.60" y="215.69" width="8.40" height="24.61" fill="#4d5469" stroke="#3a4052" stroke-width="0.5"/>
<line x1="59.70" y1="231.23" x2="59.70" y2="233.41" stroke="#231f20" stroke-width="0.8" />
<line x1="57.70" y1="231.23" x2="61.70" y2="231.23" stroke="#231f20" stroke-width="0.8" />
<line x1="68.80" y1="211.33" x2="68.80" y2="220.05" stroke="#231f20" stroke-width="0.8" />
<line x1="66.80" y1="211.33" x2="70.80" y2="211.33" stroke="#231f20" stroke-width="0.8" />
<circle cx="58.20" cy="231.82" r="1.25" fill="#fff" stroke="#111" stroke-width="0.65"/>
<circle cx="60.90" cy="233.32" r="1.25" fill="#fff" stroke="#111" stroke-width="0.65"/>
<circle cx="59.70" cy="230.32" r="1.25" fill="#fff" stroke="#111" stroke-width="0.65"/>
<circle cx="59.20" cy="234.82" r="1.25" fill="#fff" stroke="#111" stroke-width="0.65"/>
<circle cx="67.50" cy="214.69" r="1.25" fill="#fff" stroke="#111" stroke-width="0.65"/>
<circle cx="70.10" cy="217.19" r="1.25" fill="#fff" stroke="#111" stroke-width="0.65"/>
<circle cx="68.80" cy="213.19" r="1.25" fill="#fff" stroke="#111" stroke-width="0.65"/>
<circle cx="69.30" cy="218.69" r="1.25" fill="#fff" stroke="#111" stroke-width="0.65"/>
<line x1="59.30" y1="206.21" x2="69.20" y2="206.21" stroke="#231f20" stroke-width="0.9" />
<line x1="68.80" y1="206.21" x2="68.80" y2="207.71" stroke="#231f20" stroke-width="0.9" />
<line x1="59.70" y1="206.21" x2="59.70" y2="207.41" stroke="#231f20" stroke-width="0.9" />
<circle cx="61.25" cy="203.11" r="0.95" fill="#111"/>
<circle cx="64.25" cy="203.11" r="0.95" fill="#111"/>
<circle cx="67.25" cy="203.11" r="0.95" fill="#111"/>
<rect x="76.80" y="198.58" width="8.40" height="41.72" fill="#c6c4ca" />
<rect x="86.10" y="180.00" width="8.40" height="60.30" fill="#4d5469" stroke="#3a4052" stroke-width="0.5"/>
<line x1="81.00" y1="195.31" x2="81.00" y2="201.85" stroke="#231f20" stroke-width="0.8" />
<line x1="79.00" y1="195.31" x2="83.00" y2="195.31" stroke="#231f20" stroke-width="0.8" />
<line x1="90.30" y1="175.64" x2="90.30" y2="184.36" stroke="#231f20" stroke-width="0.8" />
<line x1="88.30" y1="175.64" x2="92.30" y2="175.64" stroke="#231f20" stroke-width="0.8" />
<circle cx="79.50" cy="198.08" r="1.25" fill="#fff" stroke="#111" stroke-width="0.65"/>
<circle cx="82.20" cy="199.58" r="1.25" fill="#fff" stroke="#111" stroke-width="0.65"/>
<circle cx="81.00" cy="196.58" r="1.25" fill="#fff" stroke="#111" stroke-width="0.65"/>
<circle cx="80.50" cy="201.08" r="1.25" fill="#fff" stroke="#111" stroke-width="0.65"/>
<circle cx="89.00" cy="179.00" r="1.25" fill="#fff" stroke="#111" stroke-width="0.65"/>
<circle cx="91.60" cy="181.50" r="1.25" fill="#fff" stroke="#111" stroke-width="0.65"/>
<circle cx="90.30" cy="177.50" r="1.25" fill="#fff" stroke="#111" stroke-width="0.65"/>
<circle cx="90.80" cy="183.00" r="1.25" fill="#fff" stroke="#111" stroke-width="0.65"/>
<line x1="80.60" y1="171.33" x2="90.70" y2="171.33" stroke="#231f20" stroke-width="0.9" />
<line x1="90.30" y1="171.33" x2="90.30" y2="172.83" stroke="#231f20" stroke-width="0.9" />
<line x1="81.00" y1="171.33" x2="81.00" y2="172.53" stroke="#231f20" stroke-width="0.9" />
<circle cx="82.65" cy="168.23" r="0.95" fill="#111"/>
<circle cx="85.65" cy="168.23" r="0.95" fill="#111"/>
<circle cx="88.65" cy="168.23" r="0.95" fill="#111"/>
<rect x="98.40" y="212.31" width="8.40" height="27.99" fill="#c6c4ca" />
<rect x="107.60" y="202.01" width="8.40" height="38.29" fill="#4d5469" stroke="#3a4052" stroke-width="0.5"/>
<line x1="102.60" y1="211.22" x2="102.60" y2="213.40" stroke="#231f20" stroke-width="0.8" />
<line x1="100.60" y1="211.22" x2="104.60" y2="211.22" stroke="#231f20" stroke-width="0.8" />
<line x1="111.80" y1="197.11" x2="111.80" y2="206.92" stroke="#231f20" stroke-width="0.8" />
<line x1="109.80" y1="197.11" x2="113.80" y2="197.11" stroke="#231f20" stroke-width="0.8" />
<circle cx="101.10" cy="211.81" r="1.25" fill="#fff" stroke="#111" stroke-width="0.65"/>
<circle cx="103.80" cy="213.31" r="1.25" fill="#fff" stroke="#111" stroke-width="0.65"/>
<circle cx="102.60" cy="210.31" r="1.25" fill="#fff" stroke="#111" stroke-width="0.65"/>
<circle cx="102.10" cy="214.81" r="1.25" fill="#fff" stroke="#111" stroke-width="0.65"/>
<circle cx="110.50" cy="201.01" r="1.25" fill="#fff" stroke="#111" stroke-width="0.65"/>
<circle cx="113.10" cy="203.51" r="1.25" fill="#fff" stroke="#111" stroke-width="0.65"/>
<circle cx="111.80" cy="199.51" r="1.25" fill="#fff" stroke="#111" stroke-width="0.65"/>
<circle cx="112.30" cy="205.01" r="1.25" fill="#fff" stroke="#111" stroke-width="0.65"/>
<line x1="102.20" y1="193.13" x2="112.20" y2="193.13" stroke="#231f20" stroke-width="0.9" />
<line x1="111.80" y1="193.13" x2="111.80" y2="194.63" stroke="#231f20" stroke-width="0.9" />
<line x1="102.60" y1="193.13" x2="102.60" y2="194.33" stroke="#231f20" stroke-width="0.9" />
<circle cx="105.70" cy="190.03" r="0.95" fill="#111"/>
<circle cx="108.70" cy="190.03" r="0.95" fill="#111"/>
<text x="26.60" y="235" font-size="9" stroke="#231f20" stroke-width="0.22" fill="#231f20" transform="rotate(-90 26.6 235)" textLength="62.5" lengthAdjust="spacingAndGlyphs">Cells per leg (x10<tspan font-size="5" dy="-3">-3</tspan><tspan dy="3">)</tspan></text>
<text x="0" y="0" transform="translate(64.50 249.80) scale(0.8725 1)" font-size="7" fill="#231f20" text-anchor="middle" stroke="#231f20" stroke-width="0.22" >GEMM</text>
<text x="0" y="0" transform="translate(85.50 249.80) scale(0.8868 1)" font-size="7" fill="#231f20" text-anchor="middle" stroke="#231f20" stroke-width="0.22" >GM</text>
<text x="0" y="0" transform="translate(107.50 249.80) scale(0.9047 1)" font-size="7" fill="#231f20" text-anchor="middle" stroke="#231f20" stroke-width="0.22" >BFU-E</text>
<text x="0" y="0" transform="translate(139.00 163.92)" font-size="11" fill="#000" font-weight="bold" >D</text>
<rect x="148.1" y="168.9" width="45.2" height="34.1" fill="url(#photobg)"/>
<rect x="148.1" y="207.9" width="45.2" height="34.1" fill="url(#photobg)"/>
<path d="M154.7,182.8 C157,181.8 161,181.6 165.2,182.8 C168.5,183.6 171,184.6 172.9,184.3 C175.5,183.6 177.5,182 179.5,180.3 C181.5,178.5 183,176.8 185,176 C186.6,175.3 188.3,175.2 189.6,176.5 C190.6,178.3 190.6,181 190.2,183.3 C190,185.5 189.8,187 189.3,188.1 C187.5,189.4 186,190 184.5,191 C182.5,192.3 180.5,193 178.7,193.9 C176.5,195.2 175,196 172.9,196.8 C170.5,197.7 168.5,198.6 166.2,198.7 C164,198.8 162,198.4 160.4,197.7 C157.5,196.6 155,195.5 153.7,193.9 C152.5,192.4 152.1,190.7 152.3,189.1 C152.5,187 152.8,185 153.2,183.8 Z" fill="#d2a82a"/>
<ellipse cx="177.5" cy="186" rx="5" ry="3.2" fill="#e4c040" opacity="0.85"/>
<ellipse cx="186.5" cy="182" rx="3" ry="4.5" fill="#deba38" opacity="0.8"/>
<path d="M154.5,184.5 C158,183 163,183.5 168,185.5" fill="none" stroke="#b08a22" stroke-width="1.2" opacity="0.7"/>
<ellipse cx="166.5" cy="196.5" rx="2.5" ry="1.6" fill="#e4c448" opacity="0.8"/>
<path d="M185.5,176.3 C187,176.5 188.2,178 188.5,180" fill="none" stroke="#f0d860" stroke-width="0.9" opacity="0.8"/>
<path d="M155.6,219.4 C156.5,220 157,220.5 157.5,221.3 C158.5,222.7 159.3,223.5 160.4,224.2 C162,225.3 163.5,225.8 165.2,226.2 C167,226.6 169,227 171,227.1 C173,227.2 175,227.2 176.8,227.6 C178.5,228 180,228.5 181.6,229 C183.3,229.6 185,230 186.4,230.5 C188,230.7 189.3,230.7 190.2,231 C190,231.5 189.8,231.9 189.8,231.9 C188.5,232.7 187.5,233.2 186.4,233.8 C184.5,234.9 182.5,235.9 180.6,236.7 C178,237.7 175.5,238.6 172.9,239.1 C170,239.6 167.5,239.7 165.2,239.6 C162.8,239.5 160.5,239.3 158.5,238.7 C156.5,238 154.5,237.2 153.2,235.8 C152.3,234 152.2,231.5 152.3,229 C152.4,226 152.5,223.5 152.7,221.3 C153.5,220.2 154.5,219.6 155.6,219.4 Z" fill="#cfa42a"/>
<ellipse cx="173.9" cy="233.4" rx="5.4" ry="5" fill="#dfbd3e"/>
<ellipse cx="165" cy="231.5" rx="3.8" ry="4" fill="#d8b236"/>
<ellipse cx="156" cy="231" rx="3.2" ry="3.6" fill="#d6ae34"/>
<path d="M153.5,224 C155,224.5 157,226.5 158,229" fill="none" stroke="#a88424" stroke-width="1.2" opacity="0.7"/>
<ellipse cx="153.7" cy="218.2" rx="2.5" ry="1.7" fill="#ead24c"/>
<ellipse cx="183.5" cy="233" rx="3" ry="2" fill="#d8b438" opacity="0.8"/>
<text x="150.2" y="175.6" font-size="7.6" font-weight="bold" fill="#111" stroke="#111" stroke-width="0.35" textLength="25" lengthAdjust="spacingAndGlyphs">TGFβ1</text>
<text x="175.6" y="173.5" font-size="4.4" font-weight="bold" fill="#111" stroke="#111" stroke-width="0.2" textLength="12.6" lengthAdjust="spacingAndGlyphs">FL/FL</text>
<text x="150.2" y="215.1" font-size="7.6" font-weight="bold" fill="#111" stroke="#111" stroke-width="0.35" textLength="21.8" lengthAdjust="spacingAndGlyphs">TGFβ1</text>
<text x="172.5" y="212.5" font-size="4.4" font-weight="bold" fill="#111" stroke="#111" stroke-width="0.2" textLength="19.6" lengthAdjust="spacingAndGlyphs">ΔMk/ΔMk</text>
<line x1="231.00" y1="168.00" x2="231.00" y2="245.30" stroke="#231f20" stroke-width="1.1" />
<line x1="228.00" y1="242.30" x2="231.00" y2="242.30" stroke="#231f20" stroke-width="1" />
<text x="0" y="0" transform="translate(226.50 244.60)" font-size="7" fill="#231f20" text-anchor="end" stroke="#231f20" stroke-width="0.22" >0</text>
<line x1="228.00" y1="228.04" x2="231.00" y2="228.04" stroke="#231f20" stroke-width="1" />
<text x="0" y="0" transform="translate(226.50 230.34)" font-size="7" fill="#231f20" text-anchor="end" stroke="#231f20" stroke-width="0.22" >2</text>
<line x1="228.00" y1="213.78" x2="231.00" y2="213.78" stroke="#231f20" stroke-width="1" />
<text x="0" y="0" transform="translate(226.50 216.08)" font-size="7" fill="#231f20" text-anchor="end" stroke="#231f20" stroke-width="0.22" >4</text>
<line x1="228.00" y1="199.52" x2="231.00" y2="199.52" stroke="#231f20" stroke-width="1" />
<text x="0" y="0" transform="translate(226.50 201.82)" font-size="7" fill="#231f20" text-anchor="end" stroke="#231f20" stroke-width="0.22" >6</text>
<line x1="228.00" y1="185.26" x2="231.00" y2="185.26" stroke="#231f20" stroke-width="1" />
<text x="0" y="0" transform="translate(226.50 187.56)" font-size="7" fill="#231f20" text-anchor="end" stroke="#231f20" stroke-width="0.22" >8</text>
<line x1="228.00" y1="171.00" x2="231.00" y2="171.00" stroke="#231f20" stroke-width="1" />
<text x="0" y="0" transform="translate(226.50 173.30)" font-size="7" fill="#231f20" text-anchor="end" stroke="#231f20" stroke-width="0.22" >10</text>
<rect x="236.80" y="209.00" width="8.20" height="33.60" fill="#c6c4ca" />
<rect x="245.90" y="180.27" width="8.20" height="62.33" fill="#4d5469" stroke="#3a4052" stroke-width="0.5"/>
<line x1="240.90" y1="202.59" x2="240.90" y2="215.42" stroke="#231f20" stroke-width="0.8" />
<line x1="238.90" y1="202.59" x2="242.90" y2="202.59" stroke="#231f20" stroke-width="0.8" />
<line x1="250.00" y1="178.13" x2="250.00" y2="182.41" stroke="#231f20" stroke-width="0.8" />
<line x1="248.00" y1="178.13" x2="252.00" y2="178.13" stroke="#231f20" stroke-width="0.8" />
<circle cx="240.30" cy="215.30" r="1.25" fill="#fff" stroke="#111" stroke-width="0.65"/>
<circle cx="242.10" cy="207.50" r="1.25" fill="#fff" stroke="#111" stroke-width="0.65"/>
<circle cx="242.30" cy="204.50" r="1.25" fill="#fff" stroke="#111" stroke-width="0.65"/>
<circle cx="241.70" cy="201.50" r="1.25" fill="#fff" stroke="#111" stroke-width="0.65"/>
<circle cx="249.20" cy="185.57" r="1.25" fill="#fff" stroke="#111" stroke-width="0.65"/>
<circle cx="251.80" cy="178.27" r="1.3" fill="#111"/>
<circle cx="250.50" cy="179.07" r="1.3" fill="#111"/>
<line x1="240.50" y1="174.92" x2="250.40" y2="174.92" stroke="#231f20" stroke-width="0.9" />
<line x1="250.00" y1="174.92" x2="250.00" y2="176.42" stroke="#231f20" stroke-width="0.9" />
<line x1="240.90" y1="174.92" x2="240.90" y2="176.12" stroke="#231f20" stroke-width="0.9" />
<circle cx="242.45" cy="171.82" r="0.95" fill="#111"/>
<circle cx="245.45" cy="171.82" r="0.95" fill="#111"/>
<circle cx="248.45" cy="171.82" r="0.95" fill="#111"/>
<text x="0" y="0" transform="translate(213.77 236.50) rotate(-90) scale(0.7296 1)" font-size="9" fill="#231f20" stroke="#231f20" stroke-width="0.22" >CFU-S per 100K cells</text>
<text x="0" y="0" transform="translate(245.50 252.80) scale(0.8884 1)" font-size="7" fill="#231f20" text-anchor="middle" stroke="#231f20" stroke-width="0.22" >CFU-S</text>
<text x="0" y="0" transform="translate(278.20 164.62)" font-size="11" fill="#000" font-weight="bold" >E</text>
<line x1="299.30" y1="166.50" x2="299.30" y2="208.00" stroke="#6a7ab0" stroke-width="0.8" />
<line x1="299.30" y1="208.00" x2="340.60" y2="208.00" stroke="#6a7ab0" stroke-width="0.8" />
<path d="M307.2,170.8 L316.5,169.8 L325.1,174.3 L332.3,181.5 L336.6,191.6 L335.9,196.6 L330.9,197.3 L328.0,201.6 L323.7,204.5 L312.2,207.3 L305.8,206.6 L305.0,197.3 L307.2,185.8 Z" fill="#000" filter="url(#speck)" opacity="0.75"/>
<path d="M309.0,173.0 L318.0,172.0 L326.0,178.0 L331.0,186.0 L333.0,194.0 L326.0,199.0 L320.0,204.0 L308.0,205.0 L307.0,190.0 Z" fill="#000" filter="url(#speck)" opacity="0.9"/>
<clipPath id="cc1"><path d="M316.4,175.3 L318.3,176.8 L318.9,183.0 L319.6,193.0 L312.0,193.0 L312.5,184.0 L313.6,178.0 Z"/></clipPath>
<g filter="url(#bl2)"><g clip-path="url(#cc1)">
<path d="M316.4,175.3 L318.3,176.8 L318.9,183.0 L319.6,193.0 L312.0,193.0 L312.5,184.0 L313.6,178.0 Z" fill="#eef6e4"/>
<path d="M316.4,175.3 L318.3,176.8 L318.9,183.0 L319.6,193.0 L312.0,193.0 L312.5,184.0 L313.6,178.0 Z" fill="none" stroke="#a0d8a0" stroke-width="3.80" stroke-linejoin="round"/>
<path d="M316.4,175.3 L318.3,176.8 L318.9,183.0 L319.6,193.0 L312.0,193.0 L312.5,184.0 L313.6,178.0 Z" fill="none" stroke="#3ab4e6" stroke-width="2.40" stroke-linejoin="round"/>
<path d="M316.4,175.3 L318.3,176.8 L318.9,183.0 L319.6,193.0 L312.0,193.0 L312.5,184.0 L313.6,178.0 Z" fill="none" stroke="#2b3aa8" stroke-width="1.20" stroke-linejoin="round"/>
</g></g>
<clipPath id="cc2"><path d="M312.3,189.5 L319.3,189.2 L322.5,189.8 L326.3,191.0 L329.2,194.0 L327.2,197.8 L325.0,200.5 L320.0,203.3 L316.1,205.2 L310.0,206.5 L306.3,206.8 L304.4,204.5 L304.8,199.0 L307.2,192.3 L310.5,190.2 Z"/></clipPath>
<g filter="url(#bl2)"><g clip-path="url(#cc2)">
<path d="M312.3,189.5 L319.3,189.2 L322.5,189.8 L326.3,191.0 L329.2,194.0 L327.2,197.8 L325.0,200.5 L320.0,203.3 L316.1,205.2 L310.0,206.5 L306.3,206.8 L304.4,204.5 L304.8,199.0 L307.2,192.3 L310.5,190.2 Z" fill="#fff2ea"/>
<path d="M312.3,189.5 L319.3,189.2 L322.5,189.8 L326.3,191.0 L329.2,194.0 L327.2,197.8 L325.0,200.5 L320.0,203.3 L316.1,205.2 L310.0,206.5 L306.3,206.8 L304.4,204.5 L304.8,199.0 L307.2,192.3 L310.5,190.2 Z" fill="none" stroke="#f6e8a0" stroke-width="9.20" stroke-linejoin="round"/>
<path d="M312.3,189.5 L319.3,189.2 L322.5,189.8 L326.3,191.0 L329.2,194.0 L327.2,197.8 L325.0,200.5 L320.0,203.3 L316.1,205.2 L310.0,206.5 L306.3,206.8 L304.4,204.5 L304.8,199.0 L307.2,192.3 L310.5,190.2 Z" fill="none" stroke="#f2e444" stroke-width="7.00" stroke-linejoin="round"/>
<path d="M312.3,189.5 L319.3,189.2 L322.5,189.8 L326.3,191.0 L329.2,194.0 L327.2,197.8 L325.0,200.5 L320.0,203.3 L316.1,205.2 L310.0,206.5 L306.3,206.8 L304.4,204.5 L304.8,199.0 L307.2,192.3 L310.5,190.2 Z" fill="none" stroke="#8fd060" stroke-width="4.40" stroke-linejoin="round"/>
<path d="M312.3,189.5 L319.3,189.2 L322.5,189.8 L326.3,191.0 L329.2,194.0 L327.2,197.8 L325.0,200.5 L320.0,203.3 L316.1,205.2 L310.0,206.5 L306.3,206.8 L304.4,204.5 L304.8,199.0 L307.2,192.3 L310.5,190.2 Z" fill="none" stroke="#3ab4e6" stroke-width="2.80" stroke-linejoin="round"/>
<path d="M312.3,189.5 L319.3,189.2 L322.5,189.8 L326.3,191.0 L329.2,194.0 L327.2,197.8 L325.0,200.5 L320.0,203.3 L316.1,205.2 L310.0,206.5 L306.3,206.8 L304.4,204.5 L304.8,199.0 L307.2,192.3 L310.5,190.2 Z" fill="none" stroke="#2b3aa8" stroke-width="1.40" stroke-linejoin="round"/>
</g></g>
<line x1="316.20" y1="190.30" x2="316.20" y2="193.50" stroke="#eef6e4" stroke-width="2.4" />
<clipPath id="cc3"><path d="M306.8,203.0 L309.5,199.8 L316.0,198.8 L322.0,199.3 L318.5,202.6 L312.0,204.8 L307.5,205.2 Z"/></clipPath>
<g filter="url(#bl2)"><g clip-path="url(#cc3)">
<path d="M306.8,203.0 L309.5,199.8 L316.0,198.8 L322.0,199.3 L318.5,202.6 L312.0,204.8 L307.5,205.2 Z" fill="#fff4f0"/>
<path d="M306.8,203.0 L309.5,199.8 L316.0,198.8 L322.0,199.3 L318.5,202.6 L312.0,204.8 L307.5,205.2 Z" fill="none" stroke="#fcd0c0" stroke-width="3.00" stroke-linejoin="round"/>
<path d="M306.8,203.0 L309.5,199.8 L316.0,198.8 L322.0,199.3 L318.5,202.6 L312.0,204.8 L307.5,205.2 Z" fill="none" stroke="#f08a40" stroke-width="2.00" stroke-linejoin="round"/>
<path d="M306.8,203.0 L309.5,199.8 L316.0,198.8 L322.0,199.3 L318.5,202.6 L312.0,204.8 L307.5,205.2 Z" fill="none" stroke="#f6c050" stroke-width="1.00" stroke-linejoin="round"/>
</g></g>
<line x1="309.00" y1="203.80" x2="318.00" y2="200.80" stroke="#e86a50" stroke-width="0.8" />
<text x="0" y="0" transform="translate(293.80 193.80) rotate(-90) scale(0.6365 1)" font-size="9.5" fill="#231f20" stroke="#231f20" stroke-width="0.22" >SSA</text>
<text x="0" y="0" transform="translate(314.40 219.60) scale(0.6566 1)" font-size="8.3" fill="#231f20" stroke="#231f20" stroke-width="0.22" >FSA</text>
<line x1="361.30" y1="166.70" x2="361.30" y2="207.90" stroke="#6a7ab0" stroke-width="0.8" />
<line x1="361.30" y1="207.90" x2="400.30" y2="207.90" stroke="#6a7ab0" stroke-width="0.8" />
<path d="M364.0,178.0 L380.0,177.5 L390.0,179.0 L392.0,184.0 L393.0,192.0 L396.0,199.0 L395.0,205.5 L380.0,207.0 L363.0,207.0 L362.0,180.0 Z" fill="#000" filter="url(#speck)" opacity="0.55"/>
<path d="M370.0,179.0 L390.0,179.5 L393.0,186.0 L392.0,193.0 L395.0,199.0 L393.0,203.0 L372.0,201.0 L370.0,195.0 Z" fill="#000" filter="url(#speck)" opacity="1"/>
<clipPath id="cc4"><path d="M369.5,181.2 L384.0,180.8 L388.0,182.3 L386.0,185.0 L372.0,185.6 L369.5,184.8 Z"/></clipPath>
<g filter="url(#bl2)"><g clip-path="url(#cc4)">
<path d="M369.5,181.2 L384.0,180.8 L388.0,182.3 L386.0,185.0 L372.0,185.6 L369.5,184.8 Z" fill="#e0f0f8"/>
<path d="M369.5,181.2 L384.0,180.8 L388.0,182.3 L386.0,185.0 L372.0,185.6 L369.5,184.8 Z" fill="none" stroke="#5ac0ea" stroke-width="2.60" stroke-linejoin="round"/>
<path d="M369.5,181.2 L384.0,180.8 L388.0,182.3 L386.0,185.0 L372.0,185.6 L369.5,184.8 Z" fill="none" stroke="#2b3aa8" stroke-width="1.60" stroke-linejoin="round"/>
</g></g>
<polygon points="369.5,186.5 377.0,186.5 379.0,192.0 386.0,196.5 370.0,197.5" fill="#9ed4ee" filter="url(#bl1)" opacity="0.9"/>
<clipPath id="cc5"><path d="M364.2,178.2 L369.8,178.2 L370.0,197.0 L391.5,197.2 L395.3,200.5 L391.5,204.3 L370.0,204.6 L369.6,206.3 L364.2,206.3 L362.3,203.0 L363.5,197.0 Z"/></clipPath>
<g filter="url(#bl2)"><g clip-path="url(#cc5)">
<path d="M364.2,178.2 L369.8,178.2 L370.0,197.0 L391.5,197.2 L395.3,200.5 L391.5,204.3 L370.0,204.6 L369.6,206.3 L364.2,206.3 L362.3,203.0 L363.5,197.0 Z" fill="#fff6e0"/>
<path d="M364.2,178.2 L369.8,178.2 L370.0,197.0 L391.5,197.2 L395.3,200.5 L391.5,204.3 L370.0,204.6 L369.6,206.3 L364.2,206.3 L362.3,203.0 L363.5,197.0 Z" fill="none" stroke="#f2e444" stroke-width="4.60" stroke-linejoin="round"/>
<path d="M364.2,178.2 L369.8,178.2 L370.0,197.0 L391.5,197.2 L395.3,200.5 L391.5,204.3 L370.0,204.6 L369.6,206.3 L364.2,206.3 L362.3,203.0 L363.5,197.0 Z" fill="none" stroke="#7cc850" stroke-width="3.20" stroke-linejoin="round"/>
<path d="M364.2,178.2 L369.8,178.2 L370.0,197.0 L391.5,197.2 L395.3,200.5 L391.5,204.3 L370.0,204.6 L369.6,206.3 L364.2,206.3 L362.3,203.0 L363.5,197.0 Z" fill="none" stroke="#3ab4e6" stroke-width="2.20" stroke-linejoin="round"/>
<path d="M364.2,178.2 L369.8,178.2 L370.0,197.0 L391.5,197.2 L395.3,200.5 L391.5,204.3 L370.0,204.6 L369.6,206.3 L364.2,206.3 L362.3,203.0 L363.5,197.0 Z" fill="none" stroke="#2b3aa8" stroke-width="1.20" stroke-linejoin="round"/>
</g></g>
<line x1="367.00" y1="180.00" x2="367.00" y2="198.00" stroke="#f0a040" stroke-width="0.9" />
<clipPath id="cc6"><path d="M369.9,200.7 L369.9,201.2 L369.7,201.7 L369.5,202.1 L369.2,202.5 L368.9,202.8 L368.5,203.1 L368.1,203.3 L367.6,203.5 L367.1,203.5 L366.6,203.5 L366.1,203.3 L365.7,203.1 L365.3,202.8 L365.0,202.5 L364.7,202.1 L364.5,201.7 L364.3,201.2 L364.3,200.7 L364.3,200.2 L364.5,199.7 L364.7,199.3 L365.0,198.9 L365.3,198.6 L365.7,198.3 L366.1,198.1 L366.6,197.9 L367.1,197.9 L367.6,197.9 L368.1,198.1 L368.5,198.3 L368.9,198.6 L369.2,198.9 L369.5,199.3 L369.7,199.7 L369.9,200.2 Z"/></clipPath>
<g filter="url(#bl2)"><g clip-path="url(#cc6)">
<path d="M369.9,200.7 L369.9,201.2 L369.7,201.7 L369.5,202.1 L369.2,202.5 L368.9,202.8 L368.5,203.1 L368.1,203.3 L367.6,203.5 L367.1,203.5 L366.6,203.5 L366.1,203.3 L365.7,203.1 L365.3,202.8 L365.0,202.5 L364.7,202.1 L364.5,201.7 L364.3,201.2 L364.3,200.7 L364.3,200.2 L364.5,199.7 L364.7,199.3 L365.0,198.9 L365.3,198.6 L365.7,198.3 L366.1,198.1 L366.6,197.9 L367.1,197.9 L367.6,197.9 L368.1,198.1 L368.5,198.3 L368.9,198.6 L369.2,198.9 L369.5,199.3 L369.7,199.7 L369.9,200.2 Z" fill="#ffffff"/>
<path d="M369.9,200.7 L369.9,201.2 L369.7,201.7 L369.5,202.1 L369.2,202.5 L368.9,202.8 L368.5,203.1 L368.1,203.3 L367.6,203.5 L367.1,203.5 L366.6,203.5 L366.1,203.3 L365.7,203.1 L365.3,202.8 L365.0,202.5 L364.7,202.1 L364.5,201.7 L364.3,201.2 L364.3,200.7 L364.3,200.2 L364.5,199.7 L364.7,199.3 L365.0,198.9 L365.3,198.6 L365.7,198.3 L366.1,198.1 L366.6,197.9 L367.1,197.9 L367.6,197.9 L368.1,198.1 L368.5,198.3 L368.9,198.6 L369.2,198.9 L369.5,199.3 L369.7,199.7 L369.9,200.2 Z" fill="none" stroke="#e23c2c" stroke-width="2.00" stroke-linejoin="round"/>
</g></g>
<rect x="362.3" y="176.3" width="11.5" height="13.9" fill="none" stroke="#8a55b0" stroke-width="0.9"/>
<rect x="375.2" y="177.3" width="23.9" height="9.1" fill="none" stroke="#5e9e48" stroke-width="0.9"/>
<line x1="399.10" y1="177.30" x2="406.00" y2="177.30" stroke="#5e9e48" stroke-width="0.9" />
<path d="M405.5,175.3 L409.3,177.3 L405.5,179.3 Z" fill="#5e9e48"/>
<line x1="365.10" y1="208.60" x2="365.10" y2="220.50" stroke="#8a55b0" stroke-width="0.9" />
<path d="M363.1,220 L367.1,220 L365.1,223.8 Z" fill="#8a55b0"/>
<text x="0" y="0" transform="translate(364.20 167.80) scale(0.7903 1)" font-size="7" fill="#8a55b0" >LKS-</text>
<text x="0" y="0" transform="translate(364.20 174.90) scale(0.8422 1)" font-size="7" fill="#8a55b0" >27%</text>
<text x="0" y="0" transform="translate(381.20 167.80) scale(0.8661 1)" font-size="7" fill="#5e9e48" >LKS+</text>
<text x="0" y="0" transform="translate(381.90 174.90) scale(0.8712 1)" font-size="7" fill="#5e9e48" >2.8%</text>
<text x="0" y="0" transform="translate(355.00 190.90) rotate(-90) scale(0.7733 1)" font-size="8.2" fill="#231f20" stroke="#231f20" stroke-width="0.22" >Kit</text>
<text x="0" y="0" transform="translate(372.80 216.90) scale(0.6491 1)" font-size="9.2" fill="#231f20" stroke="#231f20" stroke-width="0.22" >Sca-1</text>
<line x1="420.90" y1="165.00" x2="420.90" y2="207.20" stroke="#6a7ab0" stroke-width="0.8" />
<line x1="420.90" y1="207.20" x2="451.90" y2="207.20" stroke="#6a7ab0" stroke-width="0.8" />
<path d="M430.0,181.0 L440.0,180.0 L447.0,186.0 L449.0,195.0 L448.0,204.0 L432.0,205.5 Z" fill="#000" filter="url(#speck)" opacity="0.7"/>
<clipPath id="cc7"><path d="M430.2,183.0 L436.4,183.2 L440.0,186.0 L438.5,191.0 L437.0,194.5 L441.0,195.5 L444.5,199.0 L446.6,202.6 L444.0,204.6 L431.0,204.5 Z"/></clipPath>
<g filter="url(#bl2)"><g clip-path="url(#cc7)">
<path d="M430.2,183.0 L436.4,183.2 L440.0,186.0 L438.5,191.0 L437.0,194.5 L441.0,195.5 L444.5,199.0 L446.6,202.6 L444.0,204.6 L431.0,204.5 Z" fill="#e6f4f8"/>
<path d="M430.2,183.0 L436.4,183.2 L440.0,186.0 L438.5,191.0 L437.0,194.5 L441.0,195.5 L444.5,199.0 L446.6,202.6 L444.0,204.6 L431.0,204.5 Z" fill="none" stroke="#a8e0f4" stroke-width="4.60" stroke-linejoin="round"/>
<path d="M430.2,183.0 L436.4,183.2 L440.0,186.0 L438.5,191.0 L437.0,194.5 L441.0,195.5 L444.5,199.0 L446.6,202.6 L444.0,204.6 L431.0,204.5 Z" fill="none" stroke="#3ab4e6" stroke-width="3.00" stroke-linejoin="round"/>
<path d="M430.2,183.0 L436.4,183.2 L440.0,186.0 L438.5,191.0 L437.0,194.5 L441.0,195.5 L444.5,199.0 L446.6,202.6 L444.0,204.6 L431.0,204.5 Z" fill="none" stroke="#2b3aa8" stroke-width="1.80" stroke-linejoin="round"/>
</g></g>
<clipPath id="cc8"><path d="M432.0,197.0 L440.0,197.5 L443.0,201.5 L433.0,202.5 Z"/></clipPath>
<g filter="url(#bl2)"><g clip-path="url(#cc8)">
<path d="M432.0,197.0 L440.0,197.5 L443.0,201.5 L433.0,202.5 Z" fill="#f6f8e8"/>
<path d="M432.0,197.0 L440.0,197.5 L443.0,201.5 L433.0,202.5 Z" fill="none" stroke="#c8ecd8" stroke-width="2.00" stroke-linejoin="round"/>
</g></g>
<clipPath id="cc9"><path d="M437.8,190.1 L437.8,190.6 L437.6,191.0 L437.5,191.4 L437.2,191.8 L436.9,192.1 L436.5,192.4 L436.1,192.5 L435.7,192.7 L435.2,192.7 L434.7,192.7 L434.3,192.5 L433.9,192.4 L433.5,192.1 L433.2,191.8 L432.9,191.4 L432.8,191.0 L432.6,190.6 L432.6,190.1 L432.6,189.6 L432.8,189.2 L432.9,188.8 L433.2,188.4 L433.5,188.1 L433.9,187.8 L434.3,187.7 L434.7,187.5 L435.2,187.5 L435.7,187.5 L436.1,187.7 L436.5,187.8 L436.9,188.1 L437.2,188.4 L437.5,188.8 L437.6,189.2 L437.8,189.6 Z"/></clipPath>
<g filter="url(#bl2)"><g clip-path="url(#cc9)">
<path d="M437.8,190.1 L437.8,190.6 L437.6,191.0 L437.5,191.4 L437.2,191.8 L436.9,192.1 L436.5,192.4 L436.1,192.5 L435.7,192.7 L435.2,192.7 L434.7,192.7 L434.3,192.5 L433.9,192.4 L433.5,192.1 L433.2,191.8 L432.9,191.4 L432.8,191.0 L432.6,190.6 L432.6,190.1 L432.6,189.6 L432.8,189.2 L432.9,188.8 L433.2,188.4 L433.5,188.1 L433.9,187.8 L434.3,187.7 L434.7,187.5 L435.2,187.5 L435.7,187.5 L436.1,187.7 L436.5,187.8 L436.9,188.1 L437.2,188.4 L437.5,188.8 L437.6,189.2 L437.8,189.6 Z" fill="#dcecf8"/>
<path d="M437.8,190.1 L437.8,190.6 L437.6,191.0 L437.5,191.4 L437.2,191.8 L436.9,192.1 L436.5,192.4 L436.1,192.5 L435.7,192.7 L435.2,192.7 L434.7,192.7 L434.3,192.5 L433.9,192.4 L433.5,192.1 L433.2,191.8 L432.9,191.4 L432.8,191.0 L432.6,190.6 L432.6,190.1 L432.6,189.6 L432.8,189.2 L432.9,188.8 L433.2,188.4 L433.5,188.1 L433.9,187.8 L434.3,187.7 L434.7,187.5 L435.2,187.5 L435.7,187.5 L436.1,187.7 L436.5,187.8 L436.9,188.1 L437.2,188.4 L437.5,188.8 L437.6,189.2 L437.8,189.6 Z" fill="none" stroke="#2b3aa8" stroke-width="1.60" stroke-linejoin="round"/>
</g></g>
<clipPath id="cc10"><path d="M423.3,184.0 L424.8,181.5 L426.8,181.2 L429.0,182.0 L430.3,185.0 L430.4,195.0 L430.2,201.0 L428.6,202.5 L424.5,202.5 L423.2,200.0 L423.1,190.0 Z"/></clipPath>
<g filter="url(#bl2)"><g clip-path="url(#cc10)">
<path d="M423.3,184.0 L424.8,181.5 L426.8,181.2 L429.0,182.0 L430.3,185.0 L430.4,195.0 L430.2,201.0 L428.6,202.5 L424.5,202.5 L423.2,200.0 L423.1,190.0 Z" fill="#fffae8"/>
<path d="M423.3,184.0 L424.8,181.5 L426.8,181.2 L429.0,182.0 L430.3,185.0 L430.4,195.0 L430.2,201.0 L428.6,202.5 L424.5,202.5 L423.2,200.0 L423.1,190.0 Z" fill="none" stroke="#f2e444" stroke-width="5.00" stroke-linejoin="round"/>
<path d="M423.3,184.0 L424.8,181.5 L426.8,181.2 L429.0,182.0 L430.3,185.0 L430.4,195.0 L430.2,201.0 L428.6,202.5 L424.5,202.5 L423.2,200.0 L423.1,190.0 Z" fill="none" stroke="#7cc850" stroke-width="3.20" stroke-linejoin="round"/>
<path d="M423.3,184.0 L424.8,181.5 L426.8,181.2 L429.0,182.0 L430.3,185.0 L430.4,195.0 L430.2,201.0 L428.6,202.5 L424.5,202.5 L423.2,200.0 L423.1,190.0 Z" fill="none" stroke="#3ab4e6" stroke-width="2.20" stroke-linejoin="round"/>
<path d="M423.3,184.0 L424.8,181.5 L426.8,181.2 L429.0,182.0 L430.3,185.0 L430.4,195.0 L430.2,201.0 L428.6,202.5 L424.5,202.5 L423.2,200.0 L423.1,190.0 Z" fill="none" stroke="#2b3aa8" stroke-width="1.20" stroke-linejoin="round"/>
</g></g>
<clipPath id="cc11"><path d="M428.8,188.5 L428.8,189.4 L428.7,190.3 L428.5,191.1 L428.3,191.8 L428.1,192.5 L427.8,193.0 L427.5,193.4 L427.1,193.6 L426.8,193.7 L426.5,193.6 L426.1,193.4 L425.8,193.0 L425.5,192.5 L425.3,191.8 L425.1,191.1 L424.9,190.3 L424.8,189.4 L424.8,188.5 L424.8,187.6 L424.9,186.7 L425.1,185.9 L425.3,185.2 L425.5,184.5 L425.8,184.0 L426.1,183.6 L426.5,183.4 L426.8,183.3 L427.1,183.4 L427.5,183.6 L427.8,184.0 L428.1,184.5 L428.3,185.2 L428.5,185.9 L428.7,186.7 L428.8,187.6 Z"/></clipPath>
<g filter="url(#bl2)"><g clip-path="url(#cc11)">
<path d="M428.8,188.5 L428.8,189.4 L428.7,190.3 L428.5,191.1 L428.3,191.8 L428.1,192.5 L427.8,193.0 L427.5,193.4 L427.1,193.6 L426.8,193.7 L426.5,193.6 L426.1,193.4 L425.8,193.0 L425.5,192.5 L425.3,191.8 L425.1,191.1 L424.9,190.3 L424.8,189.4 L424.8,188.5 L424.8,187.6 L424.9,186.7 L425.1,185.9 L425.3,185.2 L425.5,184.5 L425.8,184.0 L426.1,183.6 L426.5,183.4 L426.8,183.3 L427.1,183.4 L427.5,183.6 L427.8,184.0 L428.1,184.5 L428.3,185.2 L428.5,185.9 L428.7,186.7 L428.8,187.6 Z" fill="#ffffff"/>
<path d="M428.8,188.5 L428.8,189.4 L428.7,190.3 L428.5,191.1 L428.3,191.8 L428.1,192.5 L427.8,193.0 L427.5,193.4 L427.1,193.6 L426.8,193.7 L426.5,193.6 L426.1,193.4 L425.8,193.0 L425.5,192.5 L425.3,191.8 L425.1,191.1 L424.9,190.3 L424.8,189.4 L424.8,188.5 L424.8,187.6 L424.9,186.7 L425.1,185.9 L425.3,185.2 L425.5,184.5 L425.8,184.0 L426.1,183.6 L426.5,183.4 L426.8,183.3 L427.1,183.4 L427.5,183.6 L427.8,184.0 L428.1,184.5 L428.3,185.2 L428.5,185.9 L428.7,186.7 L428.8,187.6 Z" fill="none" stroke="#e23c2c" stroke-width="2.60" stroke-linejoin="round"/>
<path d="M428.8,188.5 L428.8,189.4 L428.7,190.3 L428.5,191.1 L428.3,191.8 L428.1,192.5 L427.8,193.0 L427.5,193.4 L427.1,193.6 L426.8,193.7 L426.5,193.6 L426.1,193.4 L425.8,193.0 L425.5,192.5 L425.3,191.8 L425.1,191.1 L424.9,190.3 L424.8,189.4 L424.8,188.5 L424.8,187.6 L424.9,186.7 L425.1,185.9 L425.3,185.2 L425.5,184.5 L425.8,184.0 L426.1,183.6 L426.5,183.4 L426.8,183.3 L427.1,183.4 L427.5,183.6 L427.8,184.0 L428.1,184.5 L428.3,185.2 L428.5,185.9 L428.7,186.7 L428.8,187.6 Z" fill="none" stroke="#f39a38" stroke-width="1.20" stroke-linejoin="round"/>
</g></g>
<rect x="422.4" y="179.1" width="7.9" height="16.5" fill="none" stroke="#5e9e48" stroke-width="0.9"/>
<rect x="429.9" y="194.6" width="21.5" height="12.6" fill="none" stroke="#5e9e48" stroke-width="0.9"/>
<text x="0" y="0" transform="translate(421.90 169.60) scale(0.9307 1)" font-size="7" fill="#5e9e48" >MMP</text>
<text x="0" y="0" transform="translate(423.40 177.70) scale(0.9207 1)" font-size="7" fill="#5e9e48" >58%</text>
<text x="0" y="0" transform="translate(453.00 190.80) scale(0.8430 1)" font-size="7" fill="#5e9e48" >LKS+</text>
<text x="0" y="0" transform="translate(452.00 198.80) scale(0.8813 1)" font-size="7" fill="#5e9e48" >SLAM</text>
<text x="0" y="0" transform="translate(455.00 206.40) scale(0.8280 1)" font-size="7" fill="#5e9e48" >15%</text>
<text x="0" y="0" transform="translate(417.70 195.70) rotate(-90) scale(0.7015 1)" font-size="9.2" fill="#231f20" stroke="#231f20" stroke-width="0.22" >CD48</text>
<text x="0" y="0" transform="translate(431.10 217.10) scale(0.7323 1)" font-size="9.3" fill="#231f20" stroke="#231f20" stroke-width="0.22" >CD150</text>
<circle cx="459.8" cy="167" r="0.5" fill="#4050b0"/>
<line x1="360.50" y1="224.30" x2="360.50" y2="264.70" stroke="#6a7ab0" stroke-width="0.8" />
<line x1="360.50" y1="264.70" x2="401.70" y2="264.70" stroke="#6a7ab0" stroke-width="0.8" />
<path d="M367.5,235.0 L373.0,234.0 L375.0,241.0 L383.0,244.0 L386.0,250.0 L384.0,255.0 L372.0,255.0 L367.0,250.0 Z" fill="#000" filter="url(#speck)" opacity="0.5"/>
<clipPath id="cc12"><path d="M363.8,244.0 L365.5,241.8 L368.5,242.0 L370.0,246.0 L370.2,252.3 L377.0,252.3 L381.5,253.5 L383.2,256.5 L381.5,260.5 L376.0,261.2 L370.0,261.5 L369.0,262.8 L364.5,262.8 L363.6,258.0 Z"/></clipPath>
<g filter="url(#bl2)"><g clip-path="url(#cc12)">
<path d="M363.8,244.0 L365.5,241.8 L368.5,242.0 L370.0,246.0 L370.2,252.3 L377.0,252.3 L381.5,253.5 L383.2,256.5 L381.5,260.5 L376.0,261.2 L370.0,261.5 L369.0,262.8 L364.5,262.8 L363.6,258.0 Z" fill="#fff8f0"/>
<path d="M363.8,244.0 L365.5,241.8 L368.5,242.0 L370.0,246.0 L370.2,252.3 L377.0,252.3 L381.5,253.5 L383.2,256.5 L381.5,260.5 L376.0,261.2 L370.0,261.5 L369.0,262.8 L364.5,262.8 L363.6,258.0 Z" fill="none" stroke="#f39a38" stroke-width="6.60" stroke-linejoin="round"/>
<path d="M363.8,244.0 L365.5,241.8 L368.5,242.0 L370.0,246.0 L370.2,252.3 L377.0,252.3 L381.5,253.5 L383.2,256.5 L381.5,260.5 L376.0,261.2 L370.0,261.5 L369.0,262.8 L364.5,262.8 L363.6,258.0 Z" fill="none" stroke="#f2e444" stroke-width="5.60" stroke-linejoin="round"/>
<path d="M363.8,244.0 L365.5,241.8 L368.5,242.0 L370.0,246.0 L370.2,252.3 L377.0,252.3 L381.5,253.5 L383.2,256.5 L381.5,260.5 L376.0,261.2 L370.0,261.5 L369.0,262.8 L364.5,262.8 L363.6,258.0 Z" fill="none" stroke="#7cc850" stroke-width="4.00" stroke-linejoin="round"/>
<path d="M363.8,244.0 L365.5,241.8 L368.5,242.0 L370.0,246.0 L370.2,252.3 L377.0,252.3 L381.5,253.5 L383.2,256.5 L381.5,260.5 L376.0,261.2 L370.0,261.5 L369.0,262.8 L364.5,262.8 L363.6,258.0 Z" fill="none" stroke="#3ab4e6" stroke-width="2.80" stroke-linejoin="round"/>
<path d="M363.8,244.0 L365.5,241.8 L368.5,242.0 L370.0,246.0 L370.2,252.3 L377.0,252.3 L381.5,253.5 L383.2,256.5 L381.5,260.5 L376.0,261.2 L370.0,261.5 L369.0,262.8 L364.5,262.8 L363.6,258.0 Z" fill="none" stroke="#2b3aa8" stroke-width="1.60" stroke-linejoin="round"/>
</g></g>
<clipPath id="cc13"><path d="M365.3,244.3 L366.5,243.0 L368.0,243.3 L368.5,247.0 L367.8,250.0 L365.5,250.0 Z"/></clipPath>
<g filter="url(#bl2)"><g clip-path="url(#cc13)">
<path d="M365.3,244.3 L366.5,243.0 L368.0,243.3 L368.5,247.0 L367.8,250.0 L365.5,250.0 Z" fill="#f39a38"/>
<path d="M365.3,244.3 L366.5,243.0 L368.0,243.3 L368.5,247.0 L367.8,250.0 L365.5,250.0 Z" fill="none" stroke="#e85a3a" stroke-width="1.60" stroke-linejoin="round"/>
</g></g>
<rect x="363.5" y="233.0" width="10.6" height="16.6" fill="none" stroke="#3e4a98" stroke-width="0.9"/>
<rect x="363.0" y="249.6" width="25.7" height="14.1" fill="none" stroke="#d44a52" stroke-width="0.9"/>
<line x1="388.70" y1="257.30" x2="406.00" y2="257.30" stroke="#d44a52" stroke-width="0.9" />
<path d="M405.5,255.3 L409.6,257.3 L405.5,259.3 Z" fill="#d44a52"/>
<text x="0" y="0" transform="translate(362.20 230.50) scale(0.9064 1)" font-size="7" fill="#4a58a8" >GMP 37%</text>
<text x="0" y="0" transform="translate(375.90 240.60) scale(0.9692 1)" font-size="7" fill="#d44a52" >NonGMP</text>
<text x="0" y="0" transform="translate(383.00 248.90) scale(0.9279 1)" font-size="7" fill="#d44a52" >59%</text>
<text x="0" y="0" transform="translate(355.00 253.30) rotate(-90) scale(0.8089 1)" font-size="8.3" fill="#231f20" stroke="#231f20" stroke-width="0.22" >CD16/32</text>
<text x="0" y="0" transform="translate(370.60 276.40) scale(0.7374 1)" font-size="8.8" fill="#231f20" stroke="#231f20" stroke-width="0.22" >CD150</text>
<line x1="420.40" y1="223.70" x2="420.40" y2="265.00" stroke="#6a7ab0" stroke-width="0.8" />
<line x1="420.40" y1="265.00" x2="448.30" y2="265.00" stroke="#6a7ab0" stroke-width="0.8" />
<clipPath id="rbclip"><rect x="433.4" y="230" width="20" height="35"/></clipPath><g clip-path="url(#rbclip)">
<clipPath id="cc14"><path d="M429.0,237.0 L436.5,236.3 L440.5,238.3 L444.0,242.5 L445.6,248.0 L444.3,254.0 L440.5,258.3 L436.0,260.0 L429.0,260.0 Z"/></clipPath>
<g filter="url(#bl2)"><g clip-path="url(#cc14)">
<path d="M429.0,237.0 L436.5,236.3 L440.5,238.3 L444.0,242.5 L445.6,248.0 L444.3,254.0 L440.5,258.3 L436.0,260.0 L429.0,260.0 Z" fill="#fcf6e2"/>
<path d="M429.0,237.0 L436.5,236.3 L440.5,238.3 L444.0,242.5 L445.6,248.0 L444.3,254.0 L440.5,258.3 L436.0,260.0 L429.0,260.0 Z" fill="none" stroke="#f2e444" stroke-width="6.60" stroke-linejoin="round"/>
<path d="M429.0,237.0 L436.5,236.3 L440.5,238.3 L444.0,242.5 L445.6,248.0 L444.3,254.0 L440.5,258.3 L436.0,260.0 L429.0,260.0 Z" fill="none" stroke="#8cd060" stroke-width="4.60" stroke-linejoin="round"/>
<path d="M429.0,237.0 L436.5,236.3 L440.5,238.3 L444.0,242.5 L445.6,248.0 L444.3,254.0 L440.5,258.3 L436.0,260.0 L429.0,260.0 Z" fill="none" stroke="#3ab4e6" stroke-width="3.20" stroke-linejoin="round"/>
<path d="M429.0,237.0 L436.5,236.3 L440.5,238.3 L444.0,242.5 L445.6,248.0 L444.3,254.0 L440.5,258.3 L436.0,260.0 L429.0,260.0 Z" fill="none" stroke="#2b3aa8" stroke-width="1.80" stroke-linejoin="round"/>
</g></g>
</g>
<clipPath id="cc15"><path d="M431.3,238.0 L431.2,238.7 L431.0,239.4 L430.7,240.1 L430.3,240.7 L429.8,241.2 L429.2,241.6 L428.5,241.9 L427.8,242.1 L427.1,242.2 L426.4,242.1 L425.7,241.9 L425.0,241.6 L424.4,241.2 L423.9,240.7 L423.5,240.1 L423.2,239.4 L423.0,238.7 L422.9,238.0 L423.0,237.3 L423.2,236.6 L423.5,235.9 L423.9,235.3 L424.4,234.8 L425.0,234.4 L425.7,234.1 L426.4,233.9 L427.1,233.8 L427.8,233.9 L428.5,234.1 L429.2,234.4 L429.8,234.8 L430.3,235.3 L430.7,235.9 L431.0,236.6 L431.2,237.3 Z"/></clipPath>
<g filter="url(#bl2)"><g clip-path="url(#cc15)">
<path d="M431.3,238.0 L431.2,238.7 L431.0,239.4 L430.7,240.1 L430.3,240.7 L429.8,241.2 L429.2,241.6 L428.5,241.9 L427.8,242.1 L427.1,242.2 L426.4,242.1 L425.7,241.9 L425.0,241.6 L424.4,241.2 L423.9,240.7 L423.5,240.1 L423.2,239.4 L423.0,238.7 L422.9,238.0 L423.0,237.3 L423.2,236.6 L423.5,235.9 L423.9,235.3 L424.4,234.8 L425.0,234.4 L425.7,234.1 L426.4,233.9 L427.1,233.8 L427.8,233.9 L428.5,234.1 L429.2,234.4 L429.8,234.8 L430.3,235.3 L430.7,235.9 L431.0,236.6 L431.2,237.3 Z" fill="#fff4f0"/>
<path d="M431.3,238.0 L431.2,238.7 L431.0,239.4 L430.7,240.1 L430.3,240.7 L429.8,241.2 L429.2,241.6 L428.5,241.9 L427.8,242.1 L427.1,242.2 L426.4,242.1 L425.7,241.9 L425.0,241.6 L424.4,241.2 L423.9,240.7 L423.5,240.1 L423.2,239.4 L423.0,238.7 L422.9,238.0 L423.0,237.3 L423.2,236.6 L423.5,235.9 L423.9,235.3 L424.4,234.8 L425.0,234.4 L425.7,234.1 L426.4,233.9 L427.1,233.8 L427.8,233.9 L428.5,234.1 L429.2,234.4 L429.8,234.8 L430.3,235.3 L430.7,235.9 L431.0,236.6 L431.2,237.3 Z" fill="none" stroke="#f39a38" stroke-width="5.20" stroke-linejoin="round"/>
<path d="M431.3,238.0 L431.2,238.7 L431.0,239.4 L430.7,240.1 L430.3,240.7 L429.8,241.2 L429.2,241.6 L428.5,241.9 L427.8,242.1 L427.1,242.2 L426.4,242.1 L425.7,241.9 L425.0,241.6 L424.4,241.2 L423.9,240.7 L423.5,240.1 L423.2,239.4 L423.0,238.7 L422.9,238.0 L423.0,237.3 L423.2,236.6 L423.5,235.9 L423.9,235.3 L424.4,234.8 L425.0,234.4 L425.7,234.1 L426.4,233.9 L427.1,233.8 L427.8,233.9 L428.5,234.1 L429.2,234.4 L429.8,234.8 L430.3,235.3 L430.7,235.9 L431.0,236.6 L431.2,237.3 Z" fill="none" stroke="#f2e444" stroke-width="3.80" stroke-linejoin="round"/>
<path d="M431.3,238.0 L431.2,238.7 L431.0,239.4 L430.7,240.1 L430.3,240.7 L429.8,241.2 L429.2,241.6 L428.5,241.9 L427.8,242.1 L427.1,242.2 L426.4,242.1 L425.7,241.9 L425.0,241.6 L424.4,241.2 L423.9,240.7 L423.5,240.1 L423.2,239.4 L423.0,238.7 L422.9,238.0 L423.0,237.3 L423.2,236.6 L423.5,235.9 L423.9,235.3 L424.4,234.8 L425.0,234.4 L425.7,234.1 L426.4,233.9 L427.1,233.8 L427.8,233.9 L428.5,234.1 L429.2,234.4 L429.8,234.8 L430.3,235.3 L430.7,235.9 L431.0,236.6 L431.2,237.3 Z" fill="none" stroke="#3ab4e6" stroke-width="2.40" stroke-linejoin="round"/>
<path d="M431.3,238.0 L431.2,238.7 L431.0,239.4 L430.7,240.1 L430.3,240.7 L429.8,241.2 L429.2,241.6 L428.5,241.9 L427.8,242.1 L427.1,242.2 L426.4,242.1 L425.7,241.9 L425.0,241.6 L424.4,241.2 L423.9,240.7 L423.5,240.1 L423.2,239.4 L423.0,238.7 L422.9,238.0 L423.0,237.3 L423.2,236.6 L423.5,235.9 L423.9,235.3 L424.4,234.8 L425.0,234.4 L425.7,234.1 L426.4,233.9 L427.1,233.8 L427.8,233.9 L428.5,234.1 L429.2,234.4 L429.8,234.8 L430.3,235.3 L430.7,235.9 L431.0,236.6 L431.2,237.3 Z" fill="none" stroke="#2b3aa8" stroke-width="1.40" stroke-linejoin="round"/>
</g></g>
<clipPath id="cc16"><path d="M431.2,251.2 L431.1,253.0 L430.9,254.8 L430.6,256.4 L430.1,257.9 L429.6,259.2 L428.9,260.3 L428.2,261.1 L427.4,261.5 L426.6,261.7 L425.8,261.5 L425.0,261.1 L424.3,260.3 L423.6,259.2 L423.1,257.9 L422.6,256.4 L422.3,254.8 L422.1,253.0 L422.0,251.2 L422.1,249.4 L422.3,247.6 L422.6,245.9 L423.1,244.5 L423.6,243.2 L424.3,242.1 L425.0,241.3 L425.8,240.9 L426.6,240.7 L427.4,240.9 L428.2,241.3 L428.9,242.1 L429.6,243.2 L430.1,244.5 L430.6,245.9 L430.9,247.6 L431.1,249.4 Z"/></clipPath>
<g filter="url(#bl2)"><g clip-path="url(#cc16)">
<path d="M431.2,251.2 L431.1,253.0 L430.9,254.8 L430.6,256.4 L430.1,257.9 L429.6,259.2 L428.9,260.3 L428.2,261.1 L427.4,261.5 L426.6,261.7 L425.8,261.5 L425.0,261.1 L424.3,260.3 L423.6,259.2 L423.1,257.9 L422.6,256.4 L422.3,254.8 L422.1,253.0 L422.0,251.2 L422.1,249.4 L422.3,247.6 L422.6,245.9 L423.1,244.5 L423.6,243.2 L424.3,242.1 L425.0,241.3 L425.8,240.9 L426.6,240.7 L427.4,240.9 L428.2,241.3 L428.9,242.1 L429.6,243.2 L430.1,244.5 L430.6,245.9 L430.9,247.6 L431.1,249.4 Z" fill="#fff8f4"/>
<path d="M431.2,251.2 L431.1,253.0 L430.9,254.8 L430.6,256.4 L430.1,257.9 L429.6,259.2 L428.9,260.3 L428.2,261.1 L427.4,261.5 L426.6,261.7 L425.8,261.5 L425.0,261.1 L424.3,260.3 L423.6,259.2 L423.1,257.9 L422.6,256.4 L422.3,254.8 L422.1,253.0 L422.0,251.2 L422.1,249.4 L422.3,247.6 L422.6,245.9 L423.1,244.5 L423.6,243.2 L424.3,242.1 L425.0,241.3 L425.8,240.9 L426.6,240.7 L427.4,240.9 L428.2,241.3 L428.9,242.1 L429.6,243.2 L430.1,244.5 L430.6,245.9 L430.9,247.6 L431.1,249.4 Z" fill="none" stroke="#f39a38" stroke-width="6.60" stroke-linejoin="round"/>
<path d="M431.2,251.2 L431.1,253.0 L430.9,254.8 L430.6,256.4 L430.1,257.9 L429.6,259.2 L428.9,260.3 L428.2,261.1 L427.4,261.5 L426.6,261.7 L425.8,261.5 L425.0,261.1 L424.3,260.3 L423.6,259.2 L423.1,257.9 L422.6,256.4 L422.3,254.8 L422.1,253.0 L422.0,251.2 L422.1,249.4 L422.3,247.6 L422.6,245.9 L423.1,244.5 L423.6,243.2 L424.3,242.1 L425.0,241.3 L425.8,240.9 L426.6,240.7 L427.4,240.9 L428.2,241.3 L428.9,242.1 L429.6,243.2 L430.1,244.5 L430.6,245.9 L430.9,247.6 L431.1,249.4 Z" fill="none" stroke="#f2e444" stroke-width="5.40" stroke-linejoin="round"/>
<path d="M431.2,251.2 L431.1,253.0 L430.9,254.8 L430.6,256.4 L430.1,257.9 L429.6,259.2 L428.9,260.3 L428.2,261.1 L427.4,261.5 L426.6,261.7 L425.8,261.5 L425.0,261.1 L424.3,260.3 L423.6,259.2 L423.1,257.9 L422.6,256.4 L422.3,254.8 L422.1,253.0 L422.0,251.2 L422.1,249.4 L422.3,247.6 L422.6,245.9 L423.1,244.5 L423.6,243.2 L424.3,242.1 L425.0,241.3 L425.8,240.9 L426.6,240.7 L427.4,240.9 L428.2,241.3 L428.9,242.1 L429.6,243.2 L430.1,244.5 L430.6,245.9 L430.9,247.6 L431.1,249.4 Z" fill="none" stroke="#7cc850" stroke-width="4.00" stroke-linejoin="round"/>
<path d="M431.2,251.2 L431.1,253.0 L430.9,254.8 L430.6,256.4 L430.1,257.9 L429.6,259.2 L428.9,260.3 L428.2,261.1 L427.4,261.5 L426.6,261.7 L425.8,261.5 L425.0,261.1 L424.3,260.3 L423.6,259.2 L423.1,257.9 L422.6,256.4 L422.3,254.8 L422.1,253.0 L422.0,251.2 L422.1,249.4 L422.3,247.6 L422.6,245.9 L423.1,244.5 L423.6,243.2 L424.3,242.1 L425.0,241.3 L425.8,240.9 L426.6,240.7 L427.4,240.9 L428.2,241.3 L428.9,242.1 L429.6,243.2 L430.1,244.5 L430.6,245.9 L430.9,247.6 L431.1,249.4 Z" fill="none" stroke="#3ab4e6" stroke-width="2.80" stroke-linejoin="round"/>
<path d="M431.2,251.2 L431.1,253.0 L430.9,254.8 L430.6,256.4 L430.1,257.9 L429.6,259.2 L428.9,260.3 L428.2,261.1 L427.4,261.5 L426.6,261.7 L425.8,261.5 L425.0,261.1 L424.3,260.3 L423.6,259.2 L423.1,257.9 L422.6,256.4 L422.3,254.8 L422.1,253.0 L422.0,251.2 L422.1,249.4 L422.3,247.6 L422.6,245.9 L423.1,244.5 L423.6,243.2 L424.3,242.1 L425.0,241.3 L425.8,240.9 L426.6,240.7 L427.4,240.9 L428.2,241.3 L428.9,242.1 L429.6,243.2 L430.1,244.5 L430.6,245.9 L430.9,247.6 L431.1,249.4 Z" fill="none" stroke="#2b3aa8" stroke-width="1.60" stroke-linejoin="round"/>
</g></g>
<rect x="422.3" y="232.8" width="10.1" height="10.0" fill="none" stroke="#d44a52" stroke-width="0.9"/>
<rect x="433.3" y="232.8" width="12.5" height="10.5" fill="none" stroke="#d86050" stroke-width="0.9"/>
<rect x="433.3" y="243.3" width="12.5" height="15.8" fill="none" stroke="#e07850" stroke-width="0.9"/>
<rect x="422.3" y="243.8" width="9.9" height="21.0" fill="none" stroke="#8a55b0" stroke-width="0.9"/>
<line x1="433.30" y1="243.30" x2="446.00" y2="243.30" stroke="#d03030" stroke-width="1.3" />
<text x="0" y="0" transform="translate(423.00 223.40) scale(0.7282 1)" font-size="7" fill="#d44a52" >EP</text>
<text x="0" y="0" transform="translate(420.90 231.30) scale(0.8708 1)" font-size="7" fill="#d44a52" >27%</text>
<text x="0" y="0" transform="translate(438.90 229.90) scale(0.8754 1)" font-size="7" fill="#d44a52" >Pre-CFU-E</text>
<text x="0" y="0" transform="translate(446.80 238.80) scale(0.9088 1)" font-size="7" fill="#d44a52" >9.2%</text>
<text x="0" y="0" transform="translate(446.80 249.50) scale(0.8910 1)" font-size="7" fill="#dc6a4c" >Pre-MEP</text>
<text x="0" y="0" transform="translate(454.00 257.10) scale(0.7494 1)" font-size="7" fill="#dc6a4c" >23%</text>
<text x="0" y="0" transform="translate(433.90 264.20) scale(0.9111 1)" font-size="7" fill="#8a55b0" >Pre-GMP 36%</text>
<text x="0" y="0" transform="translate(417.70 250.80) rotate(-90) scale(0.7770 1)" font-size="8.6" fill="#231f20" stroke="#231f20" stroke-width="0.22" >CD105</text>
<text x="0" y="0" transform="translate(431.50 276.40) scale(0.7447 1)" font-size="8.8" fill="#231f20" stroke="#231f20" stroke-width="0.22" >CD150</text>
<text x="0" y="0" transform="translate(8.60 295.62)" font-size="11" fill="#000" font-weight="bold" >F</text>
<line x1="45.50" y1="313.80" x2="45.50" y2="386.90" stroke="#231f20" stroke-width="1.1" />
<line x1="42.50" y1="384.00" x2="45.50" y2="384.00" stroke="#231f20" stroke-width="1" />
<text x="0" y="0" transform="translate(41.00 386.30)" font-size="7" fill="#231f20" text-anchor="end" stroke="#231f20" stroke-width="0.22" >0</text>
<line x1="42.50" y1="368.38" x2="45.50" y2="368.38" stroke="#231f20" stroke-width="1" />
<text x="0" y="0" transform="translate(41.00 370.68)" font-size="7" fill="#231f20" text-anchor="end" stroke="#231f20" stroke-width="0.22" >20</text>
<line x1="42.50" y1="352.76" x2="45.50" y2="352.76" stroke="#231f20" stroke-width="1" />
<text x="0" y="0" transform="translate(41.00 355.06)" font-size="7" fill="#231f20" text-anchor="end" stroke="#231f20" stroke-width="0.22" >40</text>
<line x1="42.50" y1="337.14" x2="45.50" y2="337.14" stroke="#231f20" stroke-width="1" />
<text x="0" y="0" transform="translate(41.00 339.44)" font-size="7" fill="#231f20" text-anchor="end" stroke="#231f20" stroke-width="0.22" >60</text>
<line x1="42.50" y1="321.52" x2="45.50" y2="321.52" stroke="#231f20" stroke-width="1" />
<text x="0" y="0" transform="translate(41.00 323.82)" font-size="7" fill="#231f20" text-anchor="end" stroke="#231f20" stroke-width="0.22" >80</text>
<rect x="53.10" y="364.63" width="8.60" height="19.67" fill="#c6c4ca" />
<rect x="62.50" y="359.79" width="8.60" height="24.51" fill="#4d5469" stroke="#3a4052" stroke-width="0.5"/>
<line x1="57.40" y1="363.85" x2="57.40" y2="365.41" stroke="#231f20" stroke-width="0.8" />
<line x1="55.40" y1="363.85" x2="59.40" y2="363.85" stroke="#231f20" stroke-width="0.8" />
<line x1="66.80" y1="358.62" x2="66.80" y2="360.96" stroke="#231f20" stroke-width="0.8" />
<line x1="64.80" y1="358.62" x2="68.80" y2="358.62" stroke="#231f20" stroke-width="0.8" />
<circle cx="56.20" cy="364.63" r="1.3" fill="#111"/>
<circle cx="58.60" cy="364.93" r="1.3" fill="#111"/>
<circle cx="57.40" cy="363.83" r="1.3" fill="#111"/>
<circle cx="65.60" cy="359.79" r="1.3" fill="#111"/>
<circle cx="68.00" cy="360.29" r="1.3" fill="#111"/>
<circle cx="66.80" cy="358.99" r="1.3" fill="#111"/>
<line x1="57.00" y1="355.88" x2="67.20" y2="355.88" stroke="#231f20" stroke-width="0.9" />
<line x1="66.80" y1="355.88" x2="66.80" y2="357.38" stroke="#231f20" stroke-width="0.9" />
<line x1="57.40" y1="355.88" x2="57.40" y2="357.08" stroke="#231f20" stroke-width="0.9" />
<circle cx="59.10" cy="352.78" r="0.95" fill="#111"/>
<circle cx="62.10" cy="352.78" r="0.95" fill="#111"/>
<circle cx="65.10" cy="352.78" r="0.95" fill="#111"/>
<rect x="75.00" y="355.02" width="8.50" height="29.28" fill="#c6c4ca" />
<rect x="84.10" y="333.47" width="8.50" height="50.83" fill="#4d5469" stroke="#3a4052" stroke-width="0.5"/>
<line x1="79.25" y1="354.24" x2="79.25" y2="355.81" stroke="#231f20" stroke-width="0.8" />
<line x1="77.25" y1="354.24" x2="81.25" y2="354.24" stroke="#231f20" stroke-width="0.8" />
<line x1="88.35" y1="332.30" x2="88.35" y2="334.64" stroke="#231f20" stroke-width="0.8" />
<line x1="86.35" y1="332.30" x2="90.35" y2="332.30" stroke="#231f20" stroke-width="0.8" />
<circle cx="78.05" cy="355.02" r="1.3" fill="#111"/>
<circle cx="80.45" cy="355.32" r="1.3" fill="#111"/>
<circle cx="79.25" cy="354.22" r="1.3" fill="#111"/>
<circle cx="87.15" cy="333.47" r="1.3" fill="#111"/>
<circle cx="89.55" cy="333.97" r="1.3" fill="#111"/>
<circle cx="88.35" cy="332.67" r="1.3" fill="#111"/>
<line x1="78.85" y1="329.33" x2="88.75" y2="329.33" stroke="#231f20" stroke-width="0.9" />
<line x1="88.35" y1="329.33" x2="88.35" y2="330.83" stroke="#231f20" stroke-width="0.9" />
<line x1="79.25" y1="329.33" x2="79.25" y2="330.53" stroke="#231f20" stroke-width="0.9" />
<circle cx="80.80" cy="326.23" r="0.95" fill="#111"/>
<circle cx="83.80" cy="326.23" r="0.95" fill="#111"/>
<circle cx="86.80" cy="326.23" r="0.95" fill="#111"/>
<rect x="96.70" y="379.39" width="7.90" height="4.91" fill="#c6c4ca" />
<rect x="105.80" y="376.19" width="7.90" height="8.11" fill="#4d5469" stroke="#3a4052" stroke-width="0.5"/>
<line x1="100.65" y1="378.61" x2="100.65" y2="380.17" stroke="#231f20" stroke-width="0.8" />
<line x1="98.65" y1="378.61" x2="102.65" y2="378.61" stroke="#231f20" stroke-width="0.8" />
<line x1="109.75" y1="375.41" x2="109.75" y2="376.97" stroke="#231f20" stroke-width="0.8" />
<line x1="107.75" y1="375.41" x2="111.75" y2="375.41" stroke="#231f20" stroke-width="0.8" />
<circle cx="99.45" cy="379.39" r="1.3" fill="#111"/>
<circle cx="101.85" cy="379.69" r="1.3" fill="#111"/>
<circle cx="100.65" cy="378.59" r="1.3" fill="#111"/>
<circle cx="108.55" cy="376.19" r="1.3" fill="#111"/>
<circle cx="110.95" cy="376.69" r="1.3" fill="#111"/>
<circle cx="109.75" cy="375.39" r="1.3" fill="#111"/>
<line x1="100.25" y1="371.50" x2="110.15" y2="371.50" stroke="#231f20" stroke-width="0.9" />
<line x1="109.75" y1="371.50" x2="109.75" y2="373.00" stroke="#231f20" stroke-width="0.9" />
<line x1="100.65" y1="371.50" x2="100.65" y2="372.70" stroke="#231f20" stroke-width="0.9" />
<circle cx="102.20" cy="368.40" r="0.95" fill="#111"/>
<circle cx="105.20" cy="368.40" r="0.95" fill="#111"/>
<circle cx="108.20" cy="368.40" r="0.95" fill="#111"/>
<rect x="117.40" y="379.47" width="8.30" height="4.83" fill="#c6c4ca" />
<rect x="126.70" y="377.52" width="8.30" height="6.78" fill="#4d5469" stroke="#3a4052" stroke-width="0.5"/>
<line x1="121.55" y1="378.69" x2="121.55" y2="380.25" stroke="#231f20" stroke-width="0.8" />
<line x1="119.55" y1="378.69" x2="123.55" y2="378.69" stroke="#231f20" stroke-width="0.8" />
<line x1="130.85" y1="376.74" x2="130.85" y2="378.30" stroke="#231f20" stroke-width="0.8" />
<line x1="128.85" y1="376.74" x2="132.85" y2="376.74" stroke="#231f20" stroke-width="0.8" />
<circle cx="120.35" cy="379.47" r="1.3" fill="#111"/>
<circle cx="122.75" cy="379.77" r="1.3" fill="#111"/>
<circle cx="121.55" cy="378.67" r="1.3" fill="#111"/>
<circle cx="129.65" cy="377.52" r="1.3" fill="#111"/>
<circle cx="132.05" cy="378.02" r="1.3" fill="#111"/>
<circle cx="130.85" cy="376.72" r="1.3" fill="#111"/>
<line x1="121.15" y1="373.07" x2="131.25" y2="373.07" stroke="#231f20" stroke-width="0.9" />
<line x1="130.85" y1="373.07" x2="130.85" y2="374.57" stroke="#231f20" stroke-width="0.9" />
<line x1="121.55" y1="373.07" x2="121.55" y2="374.27" stroke="#231f20" stroke-width="0.9" />
<circle cx="123.20" cy="369.97" r="0.95" fill="#111"/>
<circle cx="126.20" cy="369.97" r="0.95" fill="#111"/>
<circle cx="129.20" cy="369.97" r="0.95" fill="#111"/>
<rect x="138.70" y="353.70" width="8.20" height="30.60" fill="#c6c4ca" />
<rect x="147.90" y="328.00" width="8.20" height="56.30" fill="#4d5469" stroke="#3a4052" stroke-width="0.5"/>
<line x1="142.80" y1="351.35" x2="142.80" y2="356.04" stroke="#231f20" stroke-width="0.8" />
<line x1="140.80" y1="351.35" x2="144.80" y2="351.35" stroke="#231f20" stroke-width="0.8" />
<line x1="152.00" y1="326.44" x2="152.00" y2="329.56" stroke="#231f20" stroke-width="0.8" />
<line x1="150.00" y1="326.44" x2="154.00" y2="326.44" stroke="#231f20" stroke-width="0.8" />
<circle cx="141.60" cy="353.70" r="1.3" fill="#111"/>
<circle cx="144.00" cy="354.00" r="1.3" fill="#111"/>
<circle cx="142.80" cy="352.90" r="1.3" fill="#111"/>
<circle cx="150.80" cy="328.00" r="1.3" fill="#111"/>
<circle cx="153.20" cy="328.50" r="1.3" fill="#111"/>
<circle cx="152.00" cy="327.20" r="1.3" fill="#111"/>
<line x1="142.40" y1="323.86" x2="152.40" y2="323.86" stroke="#231f20" stroke-width="0.9" />
<line x1="152.00" y1="323.86" x2="152.00" y2="325.36" stroke="#231f20" stroke-width="0.9" />
<line x1="142.80" y1="323.86" x2="142.80" y2="325.06" stroke="#231f20" stroke-width="0.9" />
<circle cx="144.40" cy="320.76" r="0.95" fill="#111"/>
<circle cx="147.40" cy="320.76" r="0.95" fill="#111"/>
<circle cx="150.40" cy="320.76" r="0.95" fill="#111"/>
<text x="25.80" y="379" font-size="9" stroke="#231f20" stroke-width="0.22" fill="#231f20" transform="rotate(-90 25.8 379)" textLength="66" lengthAdjust="spacingAndGlyphs">Cells per leg (x10<tspan font-size="5" dy="-3">-3</tspan><tspan dy="3">)</tspan></text>
<rect x="86.30" y="302.20" width="6.60" height="6.60" fill="#c6c4ca" />
<rect x="86.30" y="312.40" width="6.60" height="6.80" fill="#4a5066" />
<text x="95.8" y="307.9" font-size="7" fill="#231f20" textLength="18.6" lengthAdjust="spacingAndGlyphs">TGFβ1</text>
<text x="114.6" y="304.8" font-size="4.3" fill="#231f20" stroke="#231f20" stroke-width="0.18" textLength="11" lengthAdjust="spacingAndGlyphs">FL/FL</text>
<text x="95.8" y="317.6" font-size="7" fill="#231f20" textLength="18.6" lengthAdjust="spacingAndGlyphs">TGFβ1</text>
<text x="114.6" y="314.5" font-size="4.3" fill="#231f20" stroke="#231f20" stroke-width="0.18" textLength="18" lengthAdjust="spacingAndGlyphs">ΔMk/ΔMk</text>
<text x="0" y="0" transform="translate(62.30 393.90)" font-size="7" fill="#231f20" text-anchor="middle" stroke="#231f20" stroke-width="0.22" >Pre-</text>
<text x="0" y="0" transform="translate(62.30 401.60)" font-size="7" fill="#231f20" text-anchor="middle" stroke="#231f20" stroke-width="0.22" >GEP</text>
<text x="0" y="0" transform="translate(84.00 393.90)" font-size="7" fill="#231f20" text-anchor="middle" stroke="#231f20" stroke-width="0.22" >GEP</text>
<text x="0" y="0" transform="translate(105.20 393.90)" font-size="7" fill="#231f20" text-anchor="middle" stroke="#231f20" stroke-width="0.22" >Pre-</text>
<text x="0" y="0" transform="translate(105.20 401.60)" font-size="7" fill="#231f20" text-anchor="middle" stroke="#231f20" stroke-width="0.22" >MEP</text>
<text x="0" y="0" transform="translate(126.40 393.90)" font-size="7" fill="#231f20" text-anchor="middle" stroke="#231f20" stroke-width="0.22" >Pre-</text>
<text x="0" y="0" transform="translate(126.40 401.60)" font-size="7" fill="#231f20" text-anchor="middle" stroke="#231f20" stroke-width="0.22" >CFU-E</text>
<text x="0" y="0" transform="translate(147.60 393.90)" font-size="7" fill="#231f20" text-anchor="middle" stroke="#231f20" stroke-width="0.22" >EP</text>
<text x="0" y="0" transform="translate(166.20 296.62)" font-size="11" fill="#000" font-weight="bold" >G</text>
<line x1="202.20" y1="310.00" x2="202.20" y2="387.30" stroke="#231f20" stroke-width="1.1" />
<line x1="199.20" y1="383.90" x2="202.20" y2="383.90" stroke="#231f20" stroke-width="1" />
<text x="0" y="0" transform="translate(197.70 386.20)" font-size="7" fill="#231f20" text-anchor="end" stroke="#231f20" stroke-width="0.22" >0</text>
<line x1="199.20" y1="372.19" x2="202.20" y2="372.19" stroke="#231f20" stroke-width="1" />
<text x="0" y="0" transform="translate(197.70 374.49)" font-size="7" fill="#231f20" text-anchor="end" stroke="#231f20" stroke-width="0.22" >5</text>
<line x1="199.20" y1="360.47" x2="202.20" y2="360.47" stroke="#231f20" stroke-width="1" />
<text x="0" y="0" transform="translate(197.70 362.77)" font-size="7" fill="#231f20" text-anchor="end" stroke="#231f20" stroke-width="0.22" >10</text>
<line x1="199.20" y1="348.75" x2="202.20" y2="348.75" stroke="#231f20" stroke-width="1" />
<line x1="199.20" y1="337.04" x2="202.20" y2="337.04" stroke="#231f20" stroke-width="1" />
<text x="0" y="0" transform="translate(197.70 339.34)" font-size="7" fill="#231f20" text-anchor="end" stroke="#231f20" stroke-width="0.22" >20</text>
<line x1="199.20" y1="325.32" x2="202.20" y2="325.32" stroke="#231f20" stroke-width="1" />
<line x1="199.20" y1="313.61" x2="202.20" y2="313.61" stroke="#231f20" stroke-width="1" />
<text x="0" y="0" transform="translate(197.70 315.91)" font-size="7" fill="#231f20" text-anchor="end" stroke="#231f20" stroke-width="0.22" >30</text>
<rect x="209.60" y="350.63" width="7.80" height="33.57" fill="#c6c4ca" />
<rect x="218.90" y="333.53" width="7.80" height="50.67" fill="#4d5469" stroke="#3a4052" stroke-width="0.5"/>
<line x1="213.50" y1="347.11" x2="213.50" y2="354.14" stroke="#231f20" stroke-width="0.8" />
<line x1="211.50" y1="347.11" x2="215.50" y2="347.11" stroke="#231f20" stroke-width="0.8" />
<line x1="222.80" y1="324.15" x2="222.80" y2="342.90" stroke="#231f20" stroke-width="0.8" />
<line x1="220.80" y1="324.15" x2="224.80" y2="324.15" stroke="#231f20" stroke-width="0.8" />
<circle cx="212.00" cy="350.13" r="1.25" fill="#fff" stroke="#111" stroke-width="0.65"/>
<circle cx="214.70" cy="351.63" r="1.25" fill="#fff" stroke="#111" stroke-width="0.65"/>
<circle cx="213.50" cy="348.63" r="1.25" fill="#fff" stroke="#111" stroke-width="0.65"/>
<circle cx="213.00" cy="353.13" r="1.25" fill="#fff" stroke="#111" stroke-width="0.65"/>
<circle cx="221.50" cy="332.53" r="1.25" fill="#fff" stroke="#111" stroke-width="0.65"/>
<circle cx="224.10" cy="335.03" r="1.25" fill="#fff" stroke="#111" stroke-width="0.65"/>
<circle cx="222.80" cy="331.03" r="1.25" fill="#fff" stroke="#111" stroke-width="0.65"/>
<circle cx="223.30" cy="336.53" r="1.25" fill="#fff" stroke="#111" stroke-width="0.65"/>
<line x1="213.10" y1="318.30" x2="223.20" y2="318.30" stroke="#231f20" stroke-width="0.9" />
<line x1="222.80" y1="318.30" x2="222.80" y2="319.80" stroke="#231f20" stroke-width="0.9" />
<line x1="213.50" y1="318.30" x2="213.50" y2="319.50" stroke="#231f20" stroke-width="0.9" />
<circle cx="215.15" cy="315.20" r="0.95" fill="#111"/>
<circle cx="218.15" cy="315.20" r="0.95" fill="#111"/>
<circle cx="221.15" cy="315.20" r="0.95" fill="#111"/>
<rect x="231.20" y="374.53" width="7.70" height="9.67" fill="#c6c4ca" />
<rect x="240.10" y="362.11" width="7.70" height="22.09" fill="#4d5469" stroke="#3a4052" stroke-width="0.5"/>
<line x1="235.05" y1="372.19" x2="235.05" y2="376.87" stroke="#231f20" stroke-width="0.8" />
<line x1="233.05" y1="372.19" x2="237.05" y2="372.19" stroke="#231f20" stroke-width="0.8" />
<line x1="243.95" y1="358.60" x2="243.95" y2="365.62" stroke="#231f20" stroke-width="0.8" />
<line x1="241.95" y1="358.60" x2="245.95" y2="358.60" stroke="#231f20" stroke-width="0.8" />
<circle cx="233.55" cy="374.03" r="1.25" fill="#fff" stroke="#111" stroke-width="0.65"/>
<circle cx="236.25" cy="375.53" r="1.25" fill="#fff" stroke="#111" stroke-width="0.65"/>
<circle cx="235.05" cy="372.53" r="1.25" fill="#fff" stroke="#111" stroke-width="0.65"/>
<circle cx="234.55" cy="377.03" r="1.25" fill="#fff" stroke="#111" stroke-width="0.65"/>
<circle cx="242.65" cy="361.11" r="1.25" fill="#fff" stroke="#111" stroke-width="0.65"/>
<circle cx="245.25" cy="363.61" r="1.25" fill="#fff" stroke="#111" stroke-width="0.65"/>
<circle cx="243.95" cy="359.61" r="1.25" fill="#fff" stroke="#111" stroke-width="0.65"/>
<circle cx="244.45" cy="365.11" r="1.25" fill="#fff" stroke="#111" stroke-width="0.65"/>
<line x1="234.65" y1="354.61" x2="244.35" y2="354.61" stroke="#231f20" stroke-width="0.9" />
<line x1="243.95" y1="354.61" x2="243.95" y2="356.11" stroke="#231f20" stroke-width="0.9" />
<line x1="235.05" y1="354.61" x2="235.05" y2="355.81" stroke="#231f20" stroke-width="0.9" />
<circle cx="236.50" cy="351.51" r="0.95" fill="#111"/>
<circle cx="239.50" cy="351.51" r="0.95" fill="#111"/>
<circle cx="242.50" cy="351.51" r="0.95" fill="#111"/>
<rect x="252.70" y="375.47" width="7.70" height="8.73" fill="#c6c4ca" />
<rect x="261.30" y="368.20" width="7.70" height="16.00" fill="#4d5469" stroke="#3a4052" stroke-width="0.5"/>
<line x1="256.55" y1="373.12" x2="256.55" y2="377.81" stroke="#231f20" stroke-width="0.8" />
<line x1="254.55" y1="373.12" x2="258.55" y2="373.12" stroke="#231f20" stroke-width="0.8" />
<line x1="265.15" y1="365.86" x2="265.15" y2="370.54" stroke="#231f20" stroke-width="0.8" />
<line x1="263.15" y1="365.86" x2="267.15" y2="365.86" stroke="#231f20" stroke-width="0.8" />
<circle cx="255.05" cy="374.97" r="1.25" fill="#fff" stroke="#111" stroke-width="0.65"/>
<circle cx="257.75" cy="376.47" r="1.25" fill="#fff" stroke="#111" stroke-width="0.65"/>
<circle cx="256.55" cy="373.47" r="1.25" fill="#fff" stroke="#111" stroke-width="0.65"/>
<circle cx="256.05" cy="377.97" r="1.25" fill="#fff" stroke="#111" stroke-width="0.65"/>
<circle cx="263.85" cy="367.20" r="1.25" fill="#fff" stroke="#111" stroke-width="0.65"/>
<circle cx="266.45" cy="369.70" r="1.25" fill="#fff" stroke="#111" stroke-width="0.65"/>
<circle cx="265.15" cy="365.70" r="1.25" fill="#fff" stroke="#111" stroke-width="0.65"/>
<circle cx="265.65" cy="371.20" r="1.25" fill="#fff" stroke="#111" stroke-width="0.65"/>
<line x1="256.15" y1="362.11" x2="265.55" y2="362.11" stroke="#231f20" stroke-width="0.9" />
<line x1="265.15" y1="362.11" x2="265.15" y2="363.61" stroke="#231f20" stroke-width="0.9" />
<line x1="256.55" y1="362.11" x2="256.55" y2="363.31" stroke="#231f20" stroke-width="0.9" />
<circle cx="257.85" cy="359.01" r="0.95" fill="#111"/>
<circle cx="260.85" cy="359.01" r="0.95" fill="#111"/>
<circle cx="263.85" cy="359.01" r="0.95" fill="#111"/>
<text x="184.30" y="374.7" font-size="9" stroke="#231f20" stroke-width="0.22" fill="#231f20" transform="rotate(-90 184.3 374.7)" textLength="57.4" lengthAdjust="spacingAndGlyphs">Cells per leg (x10<tspan font-size="5" dy="-3">-3</tspan><tspan dy="3">)</tspan></text>
<text x="0" y="0" transform="translate(218.00 393.10)" font-size="7" fill="#231f20" text-anchor="middle" stroke="#231f20" stroke-width="0.22" >LKS+</text>
<text x="0" y="0" transform="translate(239.60 393.10)" font-size="7" fill="#231f20" text-anchor="middle" stroke="#231f20" stroke-width="0.22" >MPP</text>
<text x="0" y="0" transform="translate(260.40 393.10)" font-size="7" fill="#231f20" text-anchor="middle" stroke="#231f20" stroke-width="0.22" >LKS+</text>
<text x="0" y="0" transform="translate(260.40 400.80)" font-size="7" fill="#231f20" text-anchor="middle" stroke="#231f20" stroke-width="0.22" >SLAM</text>
<text x="0" y="0" transform="translate(278.40 295.62)" font-size="11" fill="#000" font-weight="bold" >H</text>
<text x="0" y="0" transform="translate(318.70 303.40) scale(0.8795 1)" font-size="7" fill="#231f20" stroke="#231f20" stroke-width="0.22" >LKS+SLAM</text>
<line x1="317.20" y1="305.80" x2="317.20" y2="347.40" stroke="#7a88b8" stroke-width="1" />
<line x1="317.20" y1="347.60" x2="357.70" y2="347.60" stroke="#666" stroke-width="0.9" />
<line x1="336.40" y1="306.00" x2="336.40" y2="347.00" stroke="#c4c4c4" stroke-width="0.8" />
<line x1="317.50" y1="329.20" x2="357.00" y2="329.20" stroke="#c4c4c4" stroke-width="0.8" />
<line x1="317.20" y1="349.50" x2="317.20" y2="390.40" stroke="#7a88b8" stroke-width="1" />
<line x1="317.20" y1="390.40" x2="357.70" y2="390.40" stroke="#7a88b8" stroke-width="1" />
<line x1="336.40" y1="350.00" x2="336.40" y2="390.00" stroke="#c4c4c4" stroke-width="0.8" />
<line x1="317.50" y1="371.60" x2="357.00" y2="371.60" stroke="#c4c4c4" stroke-width="0.8" />
<clipPath id="cc17"><path d="M333.6,319.6 L335.0,320.5 L335.4,325.0 L335.4,333.0 L335.2,340.0 L334.2,343.6 L332.5,344.2 L330.6,343.6 L329.7,339.0 L329.8,331.0 L330.8,325.0 L332.0,321.0 Z"/></clipPath>
<g filter="url(#bl2)"><g clip-path="url(#cc17)">
<path d="M333.6,319.6 L335.0,320.5 L335.4,325.0 L335.4,333.0 L335.2,340.0 L334.2,343.6 L332.5,344.2 L330.6,343.6 L329.7,339.0 L329.8,331.0 L330.8,325.0 L332.0,321.0 Z" fill="#f08a40"/>
<path d="M333.6,319.6 L335.0,320.5 L335.4,325.0 L335.4,333.0 L335.2,340.0 L334.2,343.6 L332.5,344.2 L330.6,343.6 L329.7,339.0 L329.8,331.0 L330.8,325.0 L332.0,321.0 Z" fill="none" stroke="#f6c048" stroke-width="4.20" stroke-linejoin="round"/>
<path d="M333.6,319.6 L335.0,320.5 L335.4,325.0 L335.4,333.0 L335.2,340.0 L334.2,343.6 L332.5,344.2 L330.6,343.6 L329.7,339.0 L329.8,331.0 L330.8,325.0 L332.0,321.0 Z" fill="none" stroke="#f2e444" stroke-width="3.20" stroke-linejoin="round"/>
<path d="M333.6,319.6 L335.0,320.5 L335.4,325.0 L335.4,333.0 L335.2,340.0 L334.2,343.6 L332.5,344.2 L330.6,343.6 L329.7,339.0 L329.8,331.0 L330.8,325.0 L332.0,321.0 Z" fill="none" stroke="#7cc850" stroke-width="2.10" stroke-linejoin="round"/>
<path d="M333.6,319.6 L335.0,320.5 L335.4,325.0 L335.4,333.0 L335.2,340.0 L334.2,343.6 L332.5,344.2 L330.6,343.6 L329.7,339.0 L329.8,331.0 L330.8,325.0 L332.0,321.0 Z" fill="none" stroke="#3ab4e6" stroke-width="1.50" stroke-linejoin="round"/>
<path d="M333.6,319.6 L335.0,320.5 L335.4,325.0 L335.4,333.0 L335.2,340.0 L334.2,343.6 L332.5,344.2 L330.6,343.6 L329.7,339.0 L329.8,331.0 L330.8,325.0 L332.0,321.0 Z" fill="none" stroke="#2b3aa8" stroke-width="0.90" stroke-linejoin="round"/>
</g></g>
<line x1="332.60" y1="324.00" x2="332.60" y2="341.00" stroke="#e8503a" stroke-width="0.9" />
<clipPath id="cc18"><path d="M342.4,354.2 L343.4,355.2 L341.5,358.5 L338.5,362.5 L335.4,366.0 L335.4,372.0 L335.3,382.0 L334.8,388.2 L332.5,389.0 L330.6,388.2 L330.2,382.0 L330.4,372.0 L331.0,365.5 L333.0,362.0 L336.0,360.0 L339.0,357.0 Z"/></clipPath>
<g filter="url(#bl2)"><g clip-path="url(#cc18)">
<path d="M342.4,354.2 L343.4,355.2 L341.5,358.5 L338.5,362.5 L335.4,366.0 L335.4,372.0 L335.3,382.0 L334.8,388.2 L332.5,389.0 L330.6,388.2 L330.2,382.0 L330.4,372.0 L331.0,365.5 L333.0,362.0 L336.0,360.0 L339.0,357.0 Z" fill="#f08a40"/>
<path d="M342.4,354.2 L343.4,355.2 L341.5,358.5 L338.5,362.5 L335.4,366.0 L335.4,372.0 L335.3,382.0 L334.8,388.2 L332.5,389.0 L330.6,388.2 L330.2,382.0 L330.4,372.0 L331.0,365.5 L333.0,362.0 L336.0,360.0 L339.0,357.0 Z" fill="none" stroke="#f6c048" stroke-width="4.20" stroke-linejoin="round"/>
<path d="M342.4,354.2 L343.4,355.2 L341.5,358.5 L338.5,362.5 L335.4,366.0 L335.4,372.0 L335.3,382.0 L334.8,388.2 L332.5,389.0 L330.6,388.2 L330.2,382.0 L330.4,372.0 L331.0,365.5 L333.0,362.0 L336.0,360.0 L339.0,357.0 Z" fill="none" stroke="#f2e444" stroke-width="3.20" stroke-linejoin="round"/>
<path d="M342.4,354.2 L343.4,355.2 L341.5,358.5 L338.5,362.5 L335.4,366.0 L335.4,372.0 L335.3,382.0 L334.8,388.2 L332.5,389.0 L330.6,388.2 L330.2,382.0 L330.4,372.0 L331.0,365.5 L333.0,362.0 L336.0,360.0 L339.0,357.0 Z" fill="none" stroke="#7cc850" stroke-width="2.10" stroke-linejoin="round"/>
<path d="M342.4,354.2 L343.4,355.2 L341.5,358.5 L338.5,362.5 L335.4,366.0 L335.4,372.0 L335.3,382.0 L334.8,388.2 L332.5,389.0 L330.6,388.2 L330.2,382.0 L330.4,372.0 L331.0,365.5 L333.0,362.0 L336.0,360.0 L339.0,357.0 Z" fill="none" stroke="#3ab4e6" stroke-width="1.50" stroke-linejoin="round"/>
<path d="M342.4,354.2 L343.4,355.2 L341.5,358.5 L338.5,362.5 L335.4,366.0 L335.4,372.0 L335.3,382.0 L334.8,388.2 L332.5,389.0 L330.6,388.2 L330.2,382.0 L330.4,372.0 L331.0,365.5 L333.0,362.0 L336.0,360.0 L339.0,357.0 Z" fill="none" stroke="#2b3aa8" stroke-width="0.90" stroke-linejoin="round"/>
</g></g>
<line x1="332.80" y1="366.00" x2="332.80" y2="386.00" stroke="#e8503a" stroke-width="0.9" />
<clipPath id="cc19"><path d="M336.2,361.5 L339.2,357.5 L342.4,354.6 L341.4,358.5 L338.6,362.4 L336.3,364.5 Z"/></clipPath>
<g filter="url(#bl2)"><g clip-path="url(#cc19)">
<path d="M336.2,361.5 L339.2,357.5 L342.4,354.6 L341.4,358.5 L338.6,362.4 L336.3,364.5 Z" fill="#8cd070"/>
<path d="M336.2,361.5 L339.2,357.5 L342.4,354.6 L341.4,358.5 L338.6,362.4 L336.3,364.5 Z" fill="none" stroke="#3ab4e6" stroke-width="2.00" stroke-linejoin="round"/>
<path d="M336.2,361.5 L339.2,357.5 L342.4,354.6 L341.4,358.5 L338.6,362.4 L336.3,364.5 Z" fill="none" stroke="#2b3aa8" stroke-width="1.00" stroke-linejoin="round"/>
</g></g>
<clipPath id="cc20"><path d="M341.2,320.6 L341.2,321.0 L341.1,321.3 L340.9,321.7 L340.7,321.9 L340.4,322.2 L340.2,322.4 L339.8,322.6 L339.5,322.7 L339.1,322.7 L338.7,322.7 L338.4,322.6 L338.1,322.4 L337.8,322.2 L337.5,321.9 L337.3,321.7 L337.1,321.3 L337.0,321.0 L337.0,320.6 L337.0,320.2 L337.1,319.9 L337.3,319.6 L337.5,319.3 L337.8,319.0 L338.1,318.8 L338.4,318.6 L338.7,318.5 L339.1,318.5 L339.5,318.5 L339.8,318.6 L340.2,318.8 L340.4,319.0 L340.7,319.3 L340.9,319.6 L341.1,319.9 L341.2,320.2 Z"/></clipPath>
<g filter="url(#bl2)"><g clip-path="url(#cc20)">
<path d="M341.2,320.6 L341.2,321.0 L341.1,321.3 L340.9,321.7 L340.7,321.9 L340.4,322.2 L340.2,322.4 L339.8,322.6 L339.5,322.7 L339.1,322.7 L338.7,322.7 L338.4,322.6 L338.1,322.4 L337.8,322.2 L337.5,321.9 L337.3,321.7 L337.1,321.3 L337.0,321.0 L337.0,320.6 L337.0,320.2 L337.1,319.9 L337.3,319.6 L337.5,319.3 L337.8,319.0 L338.1,318.8 L338.4,318.6 L338.7,318.5 L339.1,318.5 L339.5,318.5 L339.8,318.6 L340.2,318.8 L340.4,319.0 L340.7,319.3 L340.9,319.6 L341.1,319.9 L341.2,320.2 Z" fill="#a8dcf4"/>
<path d="M341.2,320.6 L341.2,321.0 L341.1,321.3 L340.9,321.7 L340.7,321.9 L340.4,322.2 L340.2,322.4 L339.8,322.6 L339.5,322.7 L339.1,322.7 L338.7,322.7 L338.4,322.6 L338.1,322.4 L337.8,322.2 L337.5,321.9 L337.3,321.7 L337.1,321.3 L337.0,321.0 L337.0,320.6 L337.0,320.2 L337.1,319.9 L337.3,319.6 L337.5,319.3 L337.8,319.0 L338.1,318.8 L338.4,318.6 L338.7,318.5 L339.1,318.5 L339.5,318.5 L339.8,318.6 L340.2,318.8 L340.4,319.0 L340.7,319.3 L340.9,319.6 L341.1,319.9 L341.2,320.2 Z" fill="none" stroke="#2b3aa8" stroke-width="1.60" stroke-linejoin="round"/>
</g></g>
<line x1="335.00" y1="322.50" x2="337.20" y2="321.20" stroke="#2b3aa8" stroke-width="0.7" />
<ellipse cx="338.2" cy="329.2" rx="0.9" ry="0.7" fill="#2b3aa8" filter="url(#bl2)" opacity="1"/>
<clipPath id="cc21"><path d="M341.7,365.2 L341.7,365.5 L341.6,365.8 L341.5,366.1 L341.4,366.4 L341.2,366.6 L341.0,366.8 L340.8,366.9 L340.6,367.0 L340.4,367.0 L340.2,367.0 L340.0,366.9 L339.8,366.8 L339.6,366.6 L339.4,366.4 L339.3,366.1 L339.2,365.8 L339.1,365.5 L339.1,365.2 L339.1,364.9 L339.2,364.6 L339.3,364.3 L339.4,364.0 L339.6,363.8 L339.8,363.6 L340.0,363.5 L340.2,363.4 L340.4,363.4 L340.6,363.4 L340.8,363.5 L341.0,363.6 L341.2,363.8 L341.4,364.0 L341.5,364.3 L341.6,364.6 L341.7,364.9 Z"/></clipPath>
<g filter="url(#bl2)"><g clip-path="url(#cc21)">
<path d="M341.7,365.2 L341.7,365.5 L341.6,365.8 L341.5,366.1 L341.4,366.4 L341.2,366.6 L341.0,366.8 L340.8,366.9 L340.6,367.0 L340.4,367.0 L340.2,367.0 L340.0,366.9 L339.8,366.8 L339.6,366.6 L339.4,366.4 L339.3,366.1 L339.2,365.8 L339.1,365.5 L339.1,365.2 L339.1,364.9 L339.2,364.6 L339.3,364.3 L339.4,364.0 L339.6,363.8 L339.8,363.6 L340.0,363.5 L340.2,363.4 L340.4,363.4 L340.6,363.4 L340.8,363.5 L341.0,363.6 L341.2,363.8 L341.4,364.0 L341.5,364.3 L341.6,364.6 L341.7,364.9 Z" fill="#c8e8f8"/>
<path d="M341.7,365.2 L341.7,365.5 L341.6,365.8 L341.5,366.1 L341.4,366.4 L341.2,366.6 L341.0,366.8 L340.8,366.9 L340.6,367.0 L340.4,367.0 L340.2,367.0 L340.0,366.9 L339.8,366.8 L339.6,366.6 L339.4,366.4 L339.3,366.1 L339.2,365.8 L339.1,365.5 L339.1,365.2 L339.1,364.9 L339.2,364.6 L339.3,364.3 L339.4,364.0 L339.6,363.8 L339.8,363.6 L340.0,363.5 L340.2,363.4 L340.4,363.4 L340.6,363.4 L340.8,363.5 L341.0,363.6 L341.2,363.8 L341.4,364.0 L341.5,364.3 L341.6,364.6 L341.7,364.9 Z" fill="none" stroke="#2b3aa8" stroke-width="1.40" stroke-linejoin="round"/>
</g></g>
<line x1="341.20" y1="366.50" x2="340.60" y2="369.20" stroke="#2b3aa8" stroke-width="0.7" />
<text x="0" y="0" transform="translate(320.50 314.40) scale(0.8922 1)" font-size="7" fill="#231f20" stroke="#231f20" stroke-width="0.22" >20%</text>
<text x="0" y="0" transform="translate(341.90 314.10) scale(0.7413 1)" font-size="7" fill="#231f20" stroke="#231f20" stroke-width="0.22" >9%</text>
<text x="0" y="0" transform="translate(320.50 337.40) scale(0.8922 1)" font-size="7" fill="#231f20" stroke="#231f20" stroke-width="0.22" >70%</text>
<text x="0" y="0" transform="translate(319.60 356.00) scale(0.8922 1)" font-size="7" fill="#231f20" stroke="#231f20" stroke-width="0.22" >38%</text>
<text x="0" y="0" transform="translate(340.20 356.00) scale(0.7994 1)" font-size="7" fill="#231f20" stroke="#231f20" stroke-width="0.22" >15%</text>
<text x="0" y="0" transform="translate(319.60 381.60) scale(0.8922 1)" font-size="7" fill="#231f20" stroke="#231f20" stroke-width="0.22" >44%</text>
<line x1="313.20" y1="384.60" x2="313.20" y2="320.00" stroke="#231f20" stroke-width="1" />
<path d="M311.2,321 L315.2,321 L313.2,316.3 Z" fill="#111"/>
<line x1="317.30" y1="394.80" x2="347.50" y2="394.80" stroke="#231f20" stroke-width="1" />
<path d="M347,392.8 L351.3,394.8 L347,396.8 Z" fill="#111"/>
<text x="0" y="0" transform="translate(322.70 405.40) scale(0.7633 1)" font-size="8.5" fill="#231f20" stroke="#231f20" stroke-width="0.22" >Hoechst</text>
<text x="308" y="356.3" font-size="8" fill="#231f20" stroke="#231f20" stroke-width="0.2" transform="rotate(-90 308 356.3)" textLength="12.2" lengthAdjust="spacingAndGlyphs">Ki67</text>
<text x="299.5" y="341.3" font-size="7.6" fill="#231f20" stroke="#231f20" stroke-width="0.2" transform="rotate(-90 299.5 341.3)" textLength="21.6" lengthAdjust="spacingAndGlyphs">TGFβ1</text>
<text x="296" y="319.2" font-size="4.8" fill="#231f20" transform="rotate(-90 296 319.2)" textLength="11.3" lengthAdjust="spacingAndGlyphs">FL/FL</text>
<text x="297.2" y="390" font-size="7.6" fill="#231f20" stroke="#231f20" stroke-width="0.2" transform="rotate(-90 297.2 390)" textLength="20.1" lengthAdjust="spacingAndGlyphs">TGFβ1</text>
<text x="293.8" y="369.3" font-size="4.8" fill="#231f20" transform="rotate(-90 293.8 369.3)" textLength="23" lengthAdjust="spacingAndGlyphs">ΔMk/ΔMk</text>
<text x="0" y="0" transform="translate(362.00 348.70) scale(0.8781 1)" font-size="7" fill="#231f20" stroke="#231f20" stroke-width="0.22" >G1</text>
<text x="0" y="0" transform="translate(374.60 348.70) scale(0.8305 1)" font-size="7" fill="#231f20" stroke="#231f20" stroke-width="0.22" >SG</text>
<text x="383.2" y="351" font-size="4.5" fill="#231f20" stroke="#231f20" stroke-width="0.15">2</text>
<text x="0" y="0" transform="translate(386.00 348.70) scale(0.9603 1)" font-size="7" fill="#231f20" stroke="#231f20" stroke-width="0.22" >M</text>
<text x="0" y="0" transform="translate(362.00 360.80) scale(0.8567 1)" font-size="7" fill="#231f20" stroke="#231f20" stroke-width="0.22" >G0</text>
<line x1="372.70" y1="342.00" x2="372.70" y2="365.00" stroke="#444" stroke-width="1.2" />
<line x1="361.20" y1="353.50" x2="384.60" y2="353.50" stroke="#444" stroke-width="1.2" />
<text x="0" y="0" transform="translate(400.50 295.62)" font-size="11" fill="#000" font-weight="bold" >I</text>
<line x1="432.00" y1="309.60" x2="432.00" y2="386.30" stroke="#231f20" stroke-width="1.1" />
<line x1="429.00" y1="383.70" x2="432.00" y2="383.70" stroke="#231f20" stroke-width="1" />
<text x="0" y="0" transform="translate(427.50 386.00)" font-size="7" fill="#231f20" text-anchor="end" stroke="#231f20" stroke-width="0.22" >0</text>
<line x1="429.00" y1="366.18" x2="432.00" y2="366.18" stroke="#231f20" stroke-width="1" />
<text x="0" y="0" transform="translate(427.50 368.48)" font-size="7" fill="#231f20" text-anchor="end" stroke="#231f20" stroke-width="0.22" >20</text>
<line x1="429.00" y1="348.66" x2="432.00" y2="348.66" stroke="#231f20" stroke-width="1" />
<text x="0" y="0" transform="translate(427.50 350.96)" font-size="7" fill="#231f20" text-anchor="end" stroke="#231f20" stroke-width="0.22" >40</text>
<line x1="429.00" y1="331.14" x2="432.00" y2="331.14" stroke="#231f20" stroke-width="1" />
<text x="0" y="0" transform="translate(427.50 333.44)" font-size="7" fill="#231f20" text-anchor="end" stroke="#231f20" stroke-width="0.22" >60</text>
<line x1="429.00" y1="313.62" x2="432.00" y2="313.62" stroke="#231f20" stroke-width="1" />
<text x="0" y="0" transform="translate(427.50 315.92)" font-size="7" fill="#231f20" text-anchor="end" stroke="#231f20" stroke-width="0.22" >80</text>
<rect x="439.20" y="324.31" width="8.40" height="59.69" fill="#c6c4ca" />
<rect x="448.40" y="340.69" width="8.40" height="43.31" fill="#4d5469" stroke="#3a4052" stroke-width="0.5"/>
<line x1="443.40" y1="323.69" x2="443.40" y2="324.92" stroke="#231f20" stroke-width="0.8" />
<line x1="441.40" y1="323.69" x2="445.40" y2="323.69" stroke="#231f20" stroke-width="0.8" />
<line x1="452.60" y1="338.94" x2="452.60" y2="342.44" stroke="#231f20" stroke-width="0.8" />
<line x1="450.60" y1="338.94" x2="454.60" y2="338.94" stroke="#231f20" stroke-width="0.8" />
<circle cx="441.90" cy="323.81" r="1.25" fill="#fff" stroke="#111" stroke-width="0.65"/>
<circle cx="444.60" cy="325.31" r="1.25" fill="#fff" stroke="#111" stroke-width="0.65"/>
<circle cx="443.40" cy="322.31" r="1.25" fill="#fff" stroke="#111" stroke-width="0.65"/>
<circle cx="442.90" cy="326.81" r="1.25" fill="#fff" stroke="#111" stroke-width="0.65"/>
<circle cx="451.30" cy="339.69" r="1.25" fill="#fff" stroke="#111" stroke-width="0.65"/>
<circle cx="453.90" cy="342.19" r="1.25" fill="#fff" stroke="#111" stroke-width="0.65"/>
<circle cx="452.60" cy="338.19" r="1.25" fill="#fff" stroke="#111" stroke-width="0.65"/>
<circle cx="453.10" cy="343.69" r="1.25" fill="#fff" stroke="#111" stroke-width="0.65"/>
<line x1="443.00" y1="320.63" x2="453.00" y2="320.63" stroke="#231f20" stroke-width="0.9" />
<line x1="452.60" y1="320.63" x2="452.60" y2="322.13" stroke="#231f20" stroke-width="0.9" />
<line x1="443.40" y1="320.63" x2="443.40" y2="321.83" stroke="#231f20" stroke-width="0.9" />
<circle cx="445.00" cy="317.53" r="0.95" fill="#111"/>
<circle cx="448.00" cy="317.53" r="0.95" fill="#111"/>
<circle cx="451.00" cy="317.53" r="0.95" fill="#111"/>
<rect x="460.90" y="371.61" width="8.30" height="12.39" fill="#c6c4ca" />
<rect x="470.00" y="357.07" width="8.30" height="26.93" fill="#4d5469" stroke="#3a4052" stroke-width="0.5"/>
<line x1="465.05" y1="369.86" x2="465.05" y2="373.36" stroke="#231f20" stroke-width="0.8" />
<line x1="463.05" y1="369.86" x2="467.05" y2="369.86" stroke="#231f20" stroke-width="0.8" />
<line x1="474.15" y1="355.76" x2="474.15" y2="358.38" stroke="#231f20" stroke-width="0.8" />
<line x1="472.15" y1="355.76" x2="476.15" y2="355.76" stroke="#231f20" stroke-width="0.8" />
<circle cx="463.55" cy="371.11" r="1.25" fill="#fff" stroke="#111" stroke-width="0.65"/>
<circle cx="466.25" cy="372.61" r="1.25" fill="#fff" stroke="#111" stroke-width="0.65"/>
<circle cx="465.05" cy="369.61" r="1.25" fill="#fff" stroke="#111" stroke-width="0.65"/>
<circle cx="464.55" cy="374.11" r="1.25" fill="#fff" stroke="#111" stroke-width="0.65"/>
<circle cx="472.85" cy="356.07" r="1.25" fill="#fff" stroke="#111" stroke-width="0.65"/>
<circle cx="475.45" cy="358.57" r="1.25" fill="#fff" stroke="#111" stroke-width="0.65"/>
<circle cx="474.15" cy="354.57" r="1.25" fill="#fff" stroke="#111" stroke-width="0.65"/>
<circle cx="474.65" cy="360.07" r="1.25" fill="#fff" stroke="#111" stroke-width="0.65"/>
<line x1="464.65" y1="352.16" x2="474.55" y2="352.16" stroke="#231f20" stroke-width="0.9" />
<line x1="474.15" y1="352.16" x2="474.15" y2="353.66" stroke="#231f20" stroke-width="0.9" />
<line x1="465.05" y1="352.16" x2="465.05" y2="353.36" stroke="#231f20" stroke-width="0.9" />
<circle cx="466.60" cy="349.06" r="0.95" fill="#111"/>
<circle cx="469.60" cy="349.06" r="0.95" fill="#111"/>
<circle cx="472.60" cy="349.06" r="0.95" fill="#111"/>
<rect x="482.40" y="376.78" width="8.10" height="7.22" fill="#c6c4ca" />
<rect x="491.60" y="373.71" width="8.10" height="10.29" fill="#4d5469" stroke="#3a4052" stroke-width="0.5"/>
<line x1="486.45" y1="375.90" x2="486.45" y2="377.66" stroke="#231f20" stroke-width="0.8" />
<line x1="484.45" y1="375.90" x2="488.45" y2="375.90" stroke="#231f20" stroke-width="0.8" />
<line x1="495.65" y1="371.09" x2="495.65" y2="376.34" stroke="#231f20" stroke-width="0.8" />
<line x1="493.65" y1="371.09" x2="497.65" y2="371.09" stroke="#231f20" stroke-width="0.8" />
<circle cx="484.95" cy="376.28" r="1.25" fill="#fff" stroke="#111" stroke-width="0.65"/>
<circle cx="487.65" cy="377.78" r="1.25" fill="#fff" stroke="#111" stroke-width="0.65"/>
<circle cx="486.45" cy="374.78" r="1.25" fill="#fff" stroke="#111" stroke-width="0.65"/>
<circle cx="485.95" cy="379.28" r="1.25" fill="#fff" stroke="#111" stroke-width="0.65"/>
<circle cx="494.35" cy="372.71" r="1.25" fill="#fff" stroke="#111" stroke-width="0.65"/>
<circle cx="496.95" cy="375.21" r="1.25" fill="#fff" stroke="#111" stroke-width="0.65"/>
<circle cx="495.65" cy="371.21" r="1.25" fill="#fff" stroke="#111" stroke-width="0.65"/>
<circle cx="496.15" cy="376.71" r="1.25" fill="#fff" stroke="#111" stroke-width="0.65"/>
<line x1="486.05" y1="367.93" x2="496.05" y2="367.93" stroke="#231f20" stroke-width="0.9" />
<line x1="495.65" y1="367.93" x2="495.65" y2="369.43" stroke="#231f20" stroke-width="0.9" />
<line x1="486.45" y1="367.93" x2="486.45" y2="369.13" stroke="#231f20" stroke-width="0.9" />
<circle cx="488.05" cy="364.83" r="0.95" fill="#111"/>
<circle cx="491.05" cy="364.83" r="0.95" fill="#111"/>
<circle cx="494.05" cy="364.83" r="0.95" fill="#111"/>
<text x="0" y="0" transform="translate(413.97 377.70) rotate(-90) scale(0.7248 1)" font-size="9" fill="#231f20" stroke="#231f20" stroke-width="0.22" >Percent LKS+SLAM</text>
<text x="0" y="0" transform="translate(452.90 305.80) scale(0.9204 1)" font-size="7" fill="#231f20" stroke="#231f20" stroke-width="0.22" >Cell Cycle</text>
<text x="0" y="0" transform="translate(446.30 392.60)" font-size="7" fill="#231f20" text-anchor="middle" stroke="#231f20" stroke-width="0.22" >G0</text>
<text x="0" y="0" transform="translate(467.40 392.60)" font-size="7" fill="#231f20" text-anchor="middle" stroke="#231f20" stroke-width="0.22" >G1</text>
<text x="0" y="0" transform="translate(489.70 392.60) scale(0.9272 1)" font-size="7" fill="#231f20" text-anchor="middle" stroke="#231f20" stroke-width="0.22" >S/G2/M</text>
</svg></div></body></html>
